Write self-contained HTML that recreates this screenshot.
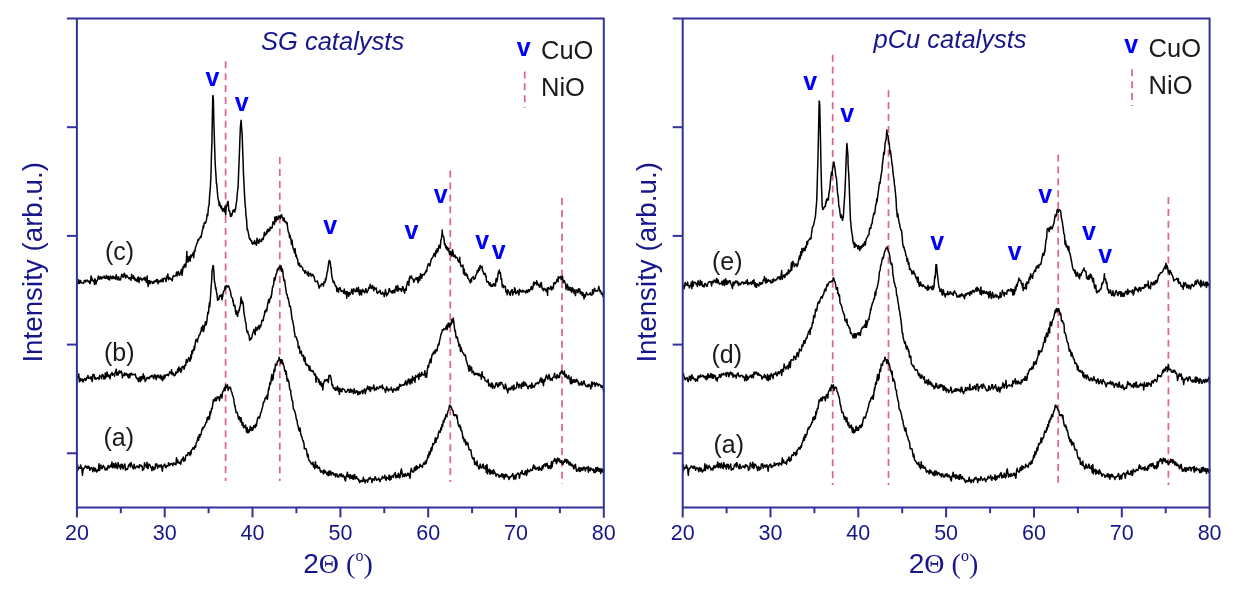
<!DOCTYPE html>
<html><head><meta charset="utf-8"><style>
html,body{margin:0;padding:0;background:#fff;}
body{width:1238px;height:595px;overflow:hidden;}
svg{display:block;will-change:transform;}
text{font-family:"Liberation Sans",sans-serif;}
.serif{font-family:"Liberation Serif",serif;}
</style></head><body>
<svg width="1238" height="595" viewBox="0 0 1238 595">
<rect width="1238" height="595" fill="#fff"/>
<path d="M225.6 61.3V481" stroke="#de6590" stroke-width="1.75" stroke-dasharray="7 4.9"/>
<path d="M279.8 157.1V481" stroke="#de6590" stroke-width="1.75" stroke-dasharray="7 4.9"/>
<path d="M450.3 170.6V482" stroke="#de6590" stroke-width="1.75" stroke-dasharray="7 4.9"/>
<path d="M562.0 198V484" stroke="#de6590" stroke-width="1.75" stroke-dasharray="7 4.9"/>
<path d="M832.7 54.7V485" stroke="#de6590" stroke-width="1.75" stroke-dasharray="7 4.9"/>
<path d="M888.5 90.2V485" stroke="#de6590" stroke-width="1.75" stroke-dasharray="7 4.9"/>
<path d="M1058.2 154.5V485" stroke="#de6590" stroke-width="1.75" stroke-dasharray="7 4.9"/>
<path d="M1168.4 197V485" stroke="#de6590" stroke-width="1.75" stroke-dasharray="7 4.9"/>
<polyline fill="none" stroke="#000" stroke-width="1.5" stroke-linejoin="round" points="76.90,282.72 77.51,283.87 78.13,282.96 78.74,279.77 79.36,283.49 79.97,282.41 80.59,280.55 81.20,282.87 81.82,282.79 82.43,282.98 83.05,282.81 83.66,283.31 84.28,280.58 84.89,281.19 85.51,280.19 85.68,282.01 86.12,281.18 86.74,280.82 87.35,280.16 87.96,281.31 88.58,281.80 89.19,281.04 89.81,283.61 90.42,282.83 91.04,275.91 91.65,277.43 92.27,280.54 92.88,280.13 93.50,281.30 94.11,281.20 94.46,284.54 94.73,278.67 95.34,279.83 95.96,283.99 96.57,281.18 97.19,280.84 97.80,278.33 98.42,275.89 99.03,278.90 99.64,278.93 100.26,276.66 100.87,277.79 101.49,279.05 102.10,276.89 102.72,277.85 103.33,277.66 103.95,277.06 104.12,275.95 104.56,277.93 105.18,278.46 105.79,277.44 106.41,275.40 107.02,278.35 107.64,276.49 108.25,279.33 108.87,276.18 109.48,280.06 110.09,278.37 110.71,276.14 111.32,277.81 111.94,278.46 112.03,278.85 112.55,276.51 113.17,276.18 113.78,278.43 114.40,277.13 115.01,278.29 115.63,279.12 116.24,274.68 116.86,278.00 117.47,279.78 118.09,277.41 118.70,276.86 119.32,280.06 119.93,279.54 120.54,279.95 121.16,276.96 121.77,274.17 122.39,275.91 122.56,275.09 123.00,277.36 123.62,276.43 124.23,273.27 124.85,274.19 125.46,278.00 126.08,277.63 126.69,275.26 127.31,276.41 127.92,277.29 128.54,277.79 129.15,278.98 129.59,278.19 129.77,277.68 130.38,277.85 131.00,280.22 131.61,274.21 132.22,277.95 132.84,278.21 133.45,275.70 134.07,279.12 134.68,277.60 135.30,280.59 135.91,279.01 136.53,280.50 137.14,281.56 137.49,280.09 137.76,277.85 138.37,276.78 138.99,282.52 139.60,279.03 140.22,277.86 140.83,279.23 141.45,278.59 142.06,280.48 142.67,279.02 143.29,278.99 143.90,277.73 144.52,279.96 145.13,277.36 145.75,280.52 146.36,282.26 146.98,277.58 147.15,276.11 147.59,282.24 148.21,286.54 148.82,281.00 149.44,280.59 150.05,283.82 150.67,281.15 151.28,281.65 151.90,281.92 152.51,283.54 153.12,281.86 153.74,283.06 154.18,282.20 154.35,280.94 154.97,281.67 155.58,280.30 156.20,281.76 156.81,279.45 157.43,279.44 158.04,283.95 158.66,281.15 159.27,281.06 159.89,281.95 160.50,280.12 161.12,280.33 161.20,281.49 161.73,281.11 162.35,278.40 162.96,281.88 163.58,279.21 164.19,278.26 164.80,278.36 165.42,278.72 166.03,281.78 166.65,276.15 167.26,277.95 167.88,274.00 168.23,278.02 168.49,279.77 169.11,278.00 169.72,277.53 170.34,278.96 170.95,279.43 171.57,278.96 172.18,280.89 172.80,277.33 173.41,275.63 174.03,276.20 174.64,276.02 175.25,276.06 175.87,275.36 176.13,275.54 176.48,271.96 177.10,275.99 177.71,272.98 178.33,271.51 178.94,274.40 179.56,275.22 180.17,273.31 180.79,272.12 181.40,269.34 182.02,275.34 182.63,270.86 183.16,266.42 183.25,266.99 183.86,267.97 184.48,264.35 185.09,266.55 185.70,264.11 185.79,266.91 186.32,261.94 186.85,251.62 186.93,256.55 187.55,256.13 187.99,262.18 188.16,260.25 188.78,260.24 189.39,256.63 190.01,261.04 190.18,261.19 190.62,255.17 191.24,257.15 191.85,254.82 192.47,255.48 193.08,252.69 193.70,257.72 194.31,250.74 194.57,251.12 194.93,251.42 195.54,247.23 196.16,245.73 196.77,243.44 197.38,242.77 198.00,239.53 198.09,240.67 198.61,240.03 199.23,238.68 199.84,238.30 200.46,236.55 201.07,237.19 201.60,234.04 201.69,234.08 202.30,230.73 202.92,228.41 203.36,225.39 203.53,227.99 204.15,223.01 204.76,222.42 205.38,223.19 205.99,221.88 206.61,218.98 207.22,213.97 207.75,215.75 207.83,214.95 208.45,207.29 209.06,205.09 209.50,197.44 209.68,194.65 210.29,188.44 210.82,178.16 210.91,176.80 211.52,152.80 211.96,141.56 212.14,129.27 212.75,96.61 213.02,95.55 213.37,100.23 213.98,126.23 214.07,128.04 214.60,146.26 215.21,164.18 215.83,173.08 216.44,183.77 216.53,182.75 217.06,187.94 217.67,195.48 217.85,197.55 218.28,199.49 218.90,201.92 219.16,205.60 219.51,202.33 220.13,205.07 220.74,207.82 221.36,205.93 221.80,208.84 221.97,208.85 222.59,211.15 223.20,208.58 223.82,209.66 224.43,211.69 225.05,206.29 225.66,214.97 226.19,206.62 226.28,206.27 226.89,205.98 227.51,202.19 228.12,201.34 228.74,209.86 228.82,210.67 229.35,210.43 229.96,213.05 230.58,216.40 231.19,214.01 231.46,216.27 231.81,215.44 232.42,212.85 233.04,210.31 233.65,211.50 234.27,209.60 234.88,211.93 234.97,210.19 235.50,209.44 236.11,204.73 236.73,200.57 237.34,193.02 237.96,187.82 238.04,188.53 238.57,174.44 239.19,158.50 239.36,154.90 239.80,141.94 240.41,126.67 241.03,121.20 241.12,120.24 241.64,128.29 242.00,131.65 242.26,137.77 242.87,156.36 243.05,158.97 243.49,174.32 244.10,186.58 244.19,188.07 244.72,198.15 245.33,207.39 245.51,207.33 245.95,215.27 246.56,219.37 247.18,230.25 247.26,228.17 247.79,230.31 248.41,233.17 249.02,236.93 249.64,239.14 250.25,238.74 250.34,239.04 250.86,240.74 251.48,240.50 252.09,243.50 252.71,244.20 253.32,242.48 253.94,243.56 254.55,240.39 255.17,243.79 255.78,242.44 256.05,243.30 256.40,245.24 257.01,238.16 257.63,242.84 258.24,240.41 258.86,243.19 259.47,239.16 260.09,240.33 260.70,241.26 261.31,241.66 261.75,240.51 261.93,238.89 262.54,238.46 263.16,239.68 263.77,236.68 264.39,232.24 265.00,235.56 265.62,234.03 266.23,234.15 266.58,231.60 266.85,233.43 267.46,229.48 268.08,231.80 268.69,229.29 269.31,230.77 269.92,230.68 270.10,227.33 270.54,228.03 271.15,227.30 271.77,228.38 272.38,226.51 272.99,221.77 273.61,223.24 274.22,222.43 274.49,224.43 274.84,217.01 275.45,218.27 276.07,221.49 276.24,216.60 276.68,216.65 277.30,219.29 277.91,219.64 278.53,215.89 279.14,217.39 279.76,216.12 280.37,218.36 280.63,215.60 280.99,217.49 281.60,214.61 282.22,216.74 282.83,217.87 283.27,220.77 283.44,219.89 284.06,218.01 284.67,221.22 285.29,222.14 285.90,221.45 286.52,223.16 286.78,224.16 287.13,222.79 287.75,228.96 288.36,232.20 288.98,232.72 289.59,237.68 290.21,235.56 290.29,237.23 290.82,238.41 291.44,244.42 292.05,240.12 292.67,246.10 293.28,248.85 293.89,249.88 294.51,252.96 294.69,249.53 295.12,248.58 295.74,256.18 296.35,254.86 296.97,258.55 297.58,258.90 298.20,264.40 298.81,265.25 299.43,263.26 300.04,266.80 300.66,265.92 301.27,265.92 301.89,266.91 302.50,267.63 303.12,270.25 303.73,270.82 304.35,270.72 304.96,273.38 305.57,270.64 306.19,272.40 306.80,272.75 307.42,274.95 308.03,271.76 308.65,276.19 309.26,273.76 309.88,273.55 310.49,273.25 311.11,276.10 311.72,275.71 312.34,274.23 312.95,274.76 313.57,276.37 314.18,276.73 314.80,280.50 315.41,281.76 316.02,281.62 316.64,281.49 317.25,280.91 317.87,282.68 318.48,285.08 319.10,288.23 319.71,286.89 320.33,285.28 320.94,285.70 321.56,284.42 321.91,283.57 322.17,284.32 322.79,283.81 323.40,286.02 324.02,281.71 324.63,282.74 325.25,282.08 325.42,278.65 325.86,280.25 326.47,276.58 327.09,272.10 327.62,271.07 327.70,270.21 328.32,265.43 328.93,261.06 329.37,260.35 329.55,261.03 330.16,261.60 330.78,267.78 331.13,267.48 331.39,272.34 332.01,277.11 332.62,279.74 332.89,280.92 333.24,282.44 333.85,281.31 334.47,282.95 335.08,285.02 335.70,286.48 336.31,286.36 336.93,291.50 337.54,287.90 338.15,290.93 338.59,292.13 338.77,289.60 339.38,288.29 340.00,287.56 340.61,289.88 341.23,291.47 341.84,290.72 342.46,291.26 343.07,290.97 343.69,293.32 344.30,288.99 344.92,293.70 345.53,293.74 346.15,291.57 346.76,298.19 346.94,291.81 347.38,292.42 347.99,292.20 348.60,296.28 349.22,292.50 349.83,294.73 350.45,293.99 351.06,292.78 351.68,289.34 352.29,290.30 352.91,294.21 353.52,288.70 354.14,289.42 354.75,290.36 355.28,291.80 355.37,290.76 355.98,291.37 356.60,287.90 357.21,291.46 357.83,291.00 358.44,287.35 359.05,293.25 359.67,294.86 360.28,289.92 360.90,291.96 361.51,294.89 362.13,290.19 362.74,289.28 363.18,290.37 363.36,291.60 363.97,291.21 364.59,292.82 365.20,291.66 365.82,288.42 366.43,291.12 367.05,292.87 367.66,291.00 368.28,289.81 368.89,287.29 369.51,288.33 370.12,284.24 370.73,287.39 371.09,286.04 371.35,288.39 371.96,287.67 372.58,285.48 373.19,288.26 373.81,290.81 374.42,287.22 375.04,288.91 375.65,289.09 376.27,288.02 376.88,292.64 377.50,293.39 378.11,292.49 378.73,291.74 378.99,291.28 379.34,291.87 379.96,290.23 380.57,293.27 381.18,293.92 381.80,294.20 382.41,292.05 383.03,293.62 383.64,293.34 384.26,296.59 384.87,293.43 385.49,289.45 386.10,293.31 386.72,295.90 387.33,293.66 387.95,293.92 388.56,292.31 389.18,288.54 389.53,288.73 389.79,289.66 390.41,291.47 391.02,292.02 391.63,292.61 392.25,290.75 392.86,293.07 393.48,290.81 394.09,289.98 394.71,292.69 395.32,289.40 395.94,286.03 396.55,288.92 397.17,291.14 397.78,285.57 398.31,290.60 398.40,290.67 399.01,288.86 399.63,288.38 400.24,289.61 400.86,288.85 401.47,291.48 402.09,289.65 402.70,286.39 403.31,287.93 403.93,290.94 404.54,293.09 405.16,289.42 405.77,288.28 406.21,290.33 406.39,286.62 407.00,284.68 407.62,281.51 408.23,281.87 408.85,285.40 409.29,278.03 409.46,280.24 410.08,276.13 410.69,277.40 411.31,277.99 411.48,275.96 411.92,278.07 412.54,278.86 413.15,279.12 413.76,282.20 414.38,281.09 414.99,279.23 415.61,278.35 416.22,277.71 416.84,279.64 417.45,277.68 418.07,282.83 418.68,280.98 418.95,277.18 419.30,276.86 419.91,280.29 420.53,273.65 421.14,275.99 421.76,278.25 422.37,274.61 422.99,274.99 423.60,274.26 424.21,275.06 424.65,273.35 424.83,273.50 425.44,272.52 426.06,270.60 426.67,271.61 427.29,267.31 427.90,265.08 428.17,264.08 428.52,263.69 429.13,264.41 429.75,266.02 430.36,263.22 430.98,260.55 431.59,258.37 432.21,258.06 432.82,257.06 433.44,255.62 434.05,253.34 434.67,254.48 435.28,256.67 435.89,250.48 436.51,253.14 437.12,248.74 437.74,251.78 438.35,248.86 438.97,245.15 439.58,247.73 440.20,248.04 440.81,240.66 441.43,238.39 442.04,233.79 442.22,229.91 442.66,235.34 443.27,236.12 443.89,237.45 444.50,244.48 444.85,244.76 445.12,243.95 445.73,247.87 446.34,246.02 446.96,249.72 447.57,247.58 448.19,250.86 448.80,248.47 449.42,253.80 449.68,252.02 450.03,254.71 450.65,251.57 451.26,253.03 451.88,256.21 452.49,249.68 453.11,252.64 453.72,256.41 454.34,255.48 454.51,256.44 454.95,254.99 455.57,257.91 456.18,257.06 456.79,257.47 457.41,258.12 458.02,260.91 458.64,261.62 459.25,262.12 459.78,257.34 459.87,260.29 460.48,264.02 461.10,266.57 461.71,266.06 462.33,266.56 462.94,264.97 463.56,273.73 464.17,269.05 464.79,274.97 465.05,275.14 465.40,273.49 466.02,273.19 466.63,275.73 467.25,274.70 467.86,278.35 468.47,278.52 469.09,280.02 469.70,281.21 470.32,282.91 470.93,279.18 471.55,281.64 471.64,278.30 472.16,277.74 472.78,277.50 473.39,276.30 474.01,279.28 474.62,278.50 475.24,278.41 475.85,275.07 476.47,274.32 477.08,271.64 477.34,270.19 477.70,272.52 478.31,271.24 478.92,267.97 479.54,270.25 480.15,265.39 480.77,267.66 481.38,266.82 481.73,267.11 482.00,266.29 482.61,270.86 483.23,271.61 483.84,274.34 484.46,274.12 485.07,273.25 485.69,276.47 486.13,275.94 486.30,279.30 486.92,282.08 487.53,281.89 488.15,281.54 488.76,283.17 489.37,284.93 489.99,282.72 490.60,286.16 491.22,286.40 491.39,285.00 491.83,285.30 492.45,286.25 493.06,284.16 493.68,283.68 494.29,285.91 494.91,284.09 495.52,285.85 495.79,280.68 496.14,278.61 496.75,281.79 497.37,279.63 497.98,274.43 498.60,271.42 499.21,273.14 499.30,270.05 499.83,273.44 500.44,272.74 501.05,279.50 501.67,278.86 501.93,282.99 502.28,286.83 502.90,284.75 503.51,287.64 504.13,286.02 504.74,286.51 505.36,286.56 505.97,292.12 506.59,290.98 507.20,294.66 507.82,289.69 508.43,291.46 509.05,292.04 509.66,294.45 510.28,295.36 510.89,291.13 511.50,290.45 512.12,289.54 512.73,295.11 513.35,292.42 513.96,291.26 514.23,292.26 514.58,287.64 515.19,288.99 515.81,293.84 516.42,292.92 517.04,292.53 517.65,290.49 518.27,293.14 518.88,295.01 519.50,289.34 520.11,291.29 520.73,290.47 521.34,292.07 521.95,291.62 522.13,291.38 522.57,290.17 523.18,291.84 523.80,290.78 524.41,291.61 525.03,291.73 525.64,292.96 526.26,290.38 526.87,290.47 527.49,292.58 528.10,289.85 528.72,289.56 529.33,291.45 529.59,290.32 529.95,289.88 530.56,289.77 531.18,286.54 531.79,288.73 532.41,289.35 533.02,287.04 533.63,282.28 534.25,285.01 534.86,282.38 535.48,283.22 536.09,283.64 536.71,280.76 537.06,285.09 537.32,282.48 537.94,284.23 538.55,284.54 539.17,286.66 539.78,287.29 540.40,283.27 541.01,286.48 541.45,282.61 541.63,285.83 542.24,288.53 542.86,289.49 543.47,290.74 544.08,288.30 544.70,289.54 545.31,289.10 545.93,291.15 546.54,291.65 547.16,288.02 547.60,295.36 547.77,288.49 548.39,287.57 549.00,288.93 549.62,288.97 550.23,288.54 550.85,286.29 551.46,289.95 552.08,287.14 552.69,289.18 553.31,288.27 553.74,283.02 553.92,283.36 554.53,282.52 555.15,283.91 555.76,282.63 556.38,282.08 556.99,279.24 557.61,280.59 558.14,281.66 558.22,276.63 558.84,277.96 559.45,278.06 560.07,276.80 560.68,276.42 561.30,279.85 561.65,279.00 561.91,278.33 562.53,276.16 563.14,282.68 563.76,280.74 564.37,280.62 564.99,282.59 565.60,283.85 566.04,289.48 566.21,286.35 566.83,287.21 567.44,284.30 568.06,290.20 568.67,287.14 569.29,287.14 569.90,290.35 570.52,287.79 571.13,291.45 571.75,292.47 572.19,287.54 572.36,290.63 572.98,288.43 573.59,291.46 574.21,293.49 574.82,289.65 575.44,295.59 576.05,291.72 576.66,289.85 577.28,291.45 577.89,292.79 578.51,288.70 579.12,291.34 579.74,289.02 580.35,293.82 580.97,292.11 581.58,292.01 582.20,295.61 582.81,292.40 583.43,295.00 584.04,298.86 584.66,294.68 585.27,296.71 585.89,293.98 586.50,292.27 587.11,293.73 587.73,294.94 588.34,294.67 588.96,294.38 589.57,294.21 590.19,292.67 590.80,295.09 591.42,294.91 592.03,294.96 592.65,289.69 593.26,293.69 593.88,291.53 594.49,288.24 595.11,290.28 595.72,291.09 595.90,290.48 596.34,290.67 596.95,290.96 597.57,291.13 598.18,289.74 598.79,286.38 599.41,289.12 600.02,291.66 600.64,290.75 601.25,293.48 601.87,294.39 602.48,293.24 603.10,296.59 603.71,291.58 603.80,295.04"/>
<polyline fill="none" stroke="#000" stroke-width="1.5" stroke-linejoin="round" points="76.90,377.95 77.51,376.85 78.13,377.28 78.74,373.91 79.36,381.80 79.97,380.87 80.59,378.49 81.20,380.80 81.82,380.24 82.43,379.05 83.05,382.10 83.66,379.64 84.28,379.45 84.89,378.46 85.51,380.54 85.68,379.49 86.12,380.18 86.74,377.42 87.35,378.03 87.96,375.45 88.58,378.31 89.19,377.54 89.81,378.18 90.42,378.70 91.04,376.43 91.65,379.44 92.27,381.52 92.88,374.67 93.50,374.31 94.11,374.63 94.73,378.81 95.34,377.51 95.96,379.22 96.57,378.67 97.19,377.90 97.80,378.19 98.42,377.53 99.03,379.36 99.64,375.22 100.26,375.95 100.87,376.60 101.49,378.85 102.10,374.66 102.72,374.51 103.33,375.85 103.95,379.02 104.56,376.51 105.00,378.85 105.18,372.91 105.79,377.61 106.41,376.69 107.02,371.89 107.64,374.83 108.25,376.83 108.87,374.87 109.48,376.53 110.09,378.78 110.71,374.78 111.32,373.58 111.94,372.52 112.55,375.21 113.17,373.92 113.78,374.23 114.40,374.70 114.66,376.23 115.01,372.78 115.63,371.34 116.24,369.13 116.86,375.10 117.47,372.64 118.09,375.11 118.70,372.26 119.32,370.84 119.93,372.94 120.54,372.56 121.16,371.06 121.77,372.34 122.39,377.73 123.00,375.24 123.62,375.17 124.23,373.74 124.32,372.97 124.85,375.65 125.46,373.98 126.08,373.35 126.69,375.02 127.31,374.18 127.92,376.57 128.54,377.86 129.15,373.93 129.77,377.61 130.38,373.45 131.00,374.92 131.61,373.19 132.22,374.36 132.84,374.91 133.45,374.39 133.98,374.38 134.07,374.51 134.68,374.83 135.30,374.08 135.91,376.87 136.53,378.02 137.14,378.89 137.76,378.39 138.37,381.62 138.99,378.18 139.60,377.18 140.22,381.75 140.83,376.86 141.45,380.32 142.06,376.47 142.67,378.40 143.29,373.75 143.64,378.63 143.90,377.00 144.52,376.17 145.13,381.52 145.75,380.45 146.36,379.55 146.98,377.55 147.59,378.23 148.21,377.42 148.82,378.42 149.44,378.62 150.05,376.16 150.67,376.56 151.28,376.80 151.90,375.16 152.51,376.10 153.12,376.59 153.30,377.89 153.74,378.75 154.35,374.66 154.97,377.05 155.58,375.23 156.20,379.75 156.81,375.92 157.43,377.28 158.04,375.06 158.66,375.65 159.27,377.81 159.89,376.93 160.33,378.33 160.50,374.91 161.12,378.93 161.73,376.05 162.35,380.71 162.96,377.10 163.58,379.55 164.19,374.99 164.80,378.09 165.42,375.07 166.03,375.14 166.65,375.43 167.26,374.22 167.88,375.00 168.23,375.77 168.49,375.53 169.11,374.06 169.72,371.65 170.34,372.49 170.95,373.40 171.57,369.76 172.18,374.76 172.80,372.96 173.41,373.29 174.03,375.80 174.64,375.64 175.25,375.17 175.87,371.95 176.48,373.27 177.10,372.28 177.71,368.98 177.89,372.14 178.33,371.29 178.94,366.95 179.56,370.81 180.17,368.38 180.79,372.41 181.40,371.09 182.02,366.87 182.63,366.46 183.25,367.44 183.86,366.31 184.04,369.33 184.48,367.48 185.09,364.84 185.70,365.46 186.32,359.54 186.93,362.50 187.55,362.31 188.16,359.31 188.78,357.57 189.39,359.31 190.01,361.23 190.62,357.43 191.06,354.53 191.24,358.68 191.85,351.00 192.47,353.51 193.08,349.71 193.70,350.54 194.14,346.33 194.31,349.83 194.93,346.49 195.54,341.25 196.16,339.16 196.77,340.62 197.38,342.05 198.00,338.48 198.61,336.92 199.23,334.79 199.84,334.77 200.46,332.44 201.07,330.70 201.60,327.19 201.69,330.99 202.30,330.66 202.92,325.40 203.53,331.49 204.15,328.24 204.76,325.26 205.38,321.66 205.99,324.95 206.61,322.88 207.22,317.99 207.83,312.24 208.45,313.36 209.06,305.73 209.50,302.47 209.68,307.11 210.29,299.79 210.91,290.73 211.26,284.42 211.52,283.40 212.14,270.01 212.75,267.86 213.02,265.40 213.37,266.13 213.98,273.14 214.33,280.57 214.60,281.51 215.21,285.25 215.65,289.11 215.83,287.29 216.44,291.68 217.06,294.89 217.41,298.36 217.67,300.31 218.28,298.48 218.90,299.54 219.51,295.76 220.13,296.51 220.74,295.72 221.36,294.60 221.97,299.75 222.59,297.17 223.20,292.65 223.82,290.86 224.43,290.45 225.05,286.49 225.66,288.89 226.19,285.40 226.28,287.03 226.89,285.83 227.51,287.00 228.12,285.89 228.74,286.13 229.35,287.98 229.70,288.95 229.96,290.03 230.58,291.90 231.19,296.53 231.81,297.50 232.42,297.99 233.04,302.19 233.21,300.34 233.65,305.38 234.27,306.02 234.88,305.22 235.50,311.66 236.11,314.45 236.73,310.65 237.34,315.63 237.60,316.36 237.96,313.36 238.57,312.37 239.19,308.89 239.36,310.52 239.80,306.93 240.41,305.67 241.03,297.01 241.12,299.73 241.64,299.27 242.26,303.35 242.43,301.64 242.87,301.98 243.49,306.30 243.75,310.17 244.10,313.95 244.72,316.92 245.33,321.46 245.95,322.77 246.56,329.87 247.18,332.22 247.79,331.38 248.41,334.55 249.02,334.82 249.64,340.37 250.25,339.08 250.78,338.27 250.86,339.14 251.48,338.69 252.09,336.15 252.71,333.33 253.32,331.75 253.94,329.39 254.55,332.14 255.17,334.66 255.78,327.18 256.40,330.14 257.01,330.30 257.63,327.16 258.24,328.66 258.86,325.63 259.47,329.00 260.09,325.21 260.44,326.10 260.70,326.83 261.31,323.89 261.93,320.27 262.54,320.68 263.16,320.66 263.77,316.73 264.39,314.91 264.83,310.89 265.00,312.62 265.62,312.04 266.23,309.16 266.85,310.89 267.46,305.41 268.08,302.21 268.69,299.43 269.31,302.60 269.92,298.53 270.54,298.38 270.97,295.81 271.15,297.25 271.77,293.97 272.38,288.06 272.99,286.17 273.61,284.65 274.22,277.72 274.84,280.22 275.37,278.26 275.45,277.62 276.07,273.91 276.68,273.26 277.30,269.24 277.91,270.05 278.53,267.71 279.14,268.01 279.76,266.37 280.20,267.57 280.37,269.21 280.99,265.64 281.60,271.54 282.22,268.72 282.83,270.99 283.27,276.34 283.44,277.31 284.06,280.84 284.67,279.99 285.29,285.89 285.90,289.35 286.52,294.16 287.13,294.48 287.75,298.34 288.36,298.26 288.54,300.41 288.98,301.88 289.59,306.53 290.21,306.03 290.82,308.90 291.44,314.21 292.05,319.43 292.67,320.51 293.28,324.42 293.89,327.11 294.25,331.62 294.51,331.93 295.12,336.89 295.74,336.96 296.35,337.08 296.97,339.93 297.58,341.25 297.76,341.36 298.20,347.34 298.81,348.53 299.43,346.56 300.04,353.45 300.66,352.08 301.27,351.22 301.89,355.05 302.50,356.01 303.12,356.39 303.47,355.17 303.73,359.36 304.35,361.21 304.96,357.15 305.57,363.83 306.19,364.93 306.80,363.94 307.42,365.76 308.03,365.79 308.65,365.58 308.74,366.55 309.26,370.41 309.88,366.31 310.49,370.25 311.11,371.07 311.72,370.33 312.34,371.61 312.95,370.72 313.57,372.34 314.18,374.36 314.80,375.27 315.41,373.98 316.02,382.07 316.64,376.52 317.25,378.78 317.87,378.85 318.40,379.02 318.48,382.17 319.10,379.76 319.71,384.04 320.33,384.76 320.94,381.76 321.56,386.28 322.17,383.75 322.79,389.96 323.40,383.94 324.02,382.35 324.63,379.84 325.25,380.07 325.86,380.95 326.47,379.99 327.09,379.35 327.18,380.28 327.70,380.74 328.32,382.60 328.93,375.51 329.55,376.67 329.81,375.83 330.16,375.11 330.78,377.26 331.39,380.23 332.01,385.45 332.45,384.97 332.62,384.68 333.24,387.94 333.85,388.53 334.47,388.37 334.64,389.55 335.08,387.49 335.70,390.25 336.31,389.88 336.93,388.05 337.54,386.33 338.15,390.98 338.77,388.38 339.38,394.34 340.00,388.30 340.35,391.38 340.61,389.33 341.23,391.20 341.84,391.80 342.46,388.42 343.07,389.23 343.69,389.24 344.30,389.40 344.92,390.79 345.53,392.08 346.15,392.26 346.76,391.56 347.38,390.52 347.99,389.17 348.60,389.95 349.13,390.38 349.22,392.55 349.83,390.62 350.45,389.00 351.06,392.35 351.68,389.78 352.29,390.23 352.91,391.66 353.52,393.38 354.14,388.64 354.75,391.02 355.37,393.08 355.98,391.83 356.60,390.63 357.21,391.07 357.83,394.79 358.44,391.70 358.79,393.92 359.05,394.14 359.67,392.04 360.28,393.60 360.90,391.89 361.51,391.47 362.13,390.38 362.74,393.67 363.36,391.01 363.97,390.34 364.59,388.90 365.20,393.77 365.82,391.41 366.43,389.40 367.05,387.96 367.66,386.12 368.28,389.49 368.89,389.60 369.51,386.70 370.12,391.50 370.73,390.59 371.09,387.31 371.35,387.94 371.96,387.92 372.58,388.73 373.19,387.96 373.81,385.07 374.42,390.48 375.04,388.20 375.65,389.75 376.27,389.69 376.88,387.00 377.50,387.95 378.11,388.62 378.73,388.70 379.34,387.05 379.96,386.26 380.57,387.47 381.18,386.29 381.80,387.17 382.41,384.97 382.50,388.84 383.03,387.27 383.64,388.33 384.26,389.02 384.87,389.54 385.49,392.29 386.10,389.27 386.72,386.72 387.33,389.87 387.95,388.91 388.56,391.03 389.18,389.27 389.79,389.34 390.41,389.73 391.02,389.45 391.28,387.23 391.63,389.28 392.25,390.32 392.86,392.29 393.48,389.31 394.09,388.78 394.71,389.98 395.32,389.36 395.94,390.70 396.55,388.30 397.17,387.23 397.78,389.70 398.40,390.11 399.01,386.60 399.19,387.77 399.63,384.21 400.24,386.24 400.86,384.97 401.47,385.85 402.09,384.96 402.70,385.03 403.31,384.64 403.93,385.21 404.54,384.25 405.16,382.44 405.77,380.75 406.39,384.89 407.00,384.81 407.62,381.32 407.97,383.10 408.23,379.30 408.85,379.13 409.46,381.33 410.08,384.17 410.69,379.21 411.31,379.16 411.92,383.12 412.54,376.34 413.15,380.34 413.76,379.49 414.38,377.68 414.56,378.23 414.99,382.22 415.61,375.42 416.22,376.84 416.84,376.93 417.45,376.07 418.07,374.59 418.68,379.47 419.30,376.60 419.38,372.99 419.91,374.57 420.53,376.25 421.14,375.94 421.76,372.35 422.37,374.50 422.99,374.88 423.60,375.02 424.21,374.90 424.83,370.73 425.44,377.09 426.06,373.42 426.41,375.79 426.67,377.22 427.29,370.09 427.90,365.86 428.52,367.42 429.13,363.58 429.75,361.34 430.36,359.04 430.98,362.85 431.59,357.43 432.21,354.25 432.82,354.56 433.44,351.89 434.05,353.65 434.67,351.92 435.19,350.07 435.28,352.93 435.89,349.76 436.51,351.00 437.12,350.58 437.74,346.16 438.35,344.05 438.70,344.60 438.97,344.94 439.58,340.77 440.20,338.13 440.81,334.96 441.43,333.13 442.04,332.27 442.22,329.65 442.66,329.66 443.27,330.19 443.89,328.61 444.50,329.42 445.12,329.48 445.73,327.81 446.34,326.07 446.96,325.16 447.05,329.64 447.57,327.55 448.19,323.25 448.80,322.96 449.42,327.10 450.03,325.94 450.65,322.98 451.26,324.45 451.88,319.44 452.49,321.64 453.11,322.70 453.19,318.00 453.72,320.95 454.34,326.84 454.95,331.38 455.39,330.64 455.57,333.00 456.18,337.98 456.79,336.93 457.41,337.42 458.02,341.52 458.64,342.54 458.90,346.21 459.25,344.92 459.87,344.42 460.48,351.47 461.10,347.45 461.71,350.35 462.33,351.87 462.94,353.12 463.56,353.16 464.17,355.20 464.79,355.61 465.40,355.08 466.02,359.33 466.63,361.49 467.25,363.56 467.86,365.94 468.47,366.03 468.56,369.70 469.09,371.14 469.70,365.48 470.32,370.48 470.93,369.96 471.55,367.12 472.08,372.81 472.16,370.99 472.78,371.57 473.39,371.22 474.01,374.48 474.62,374.86 475.24,373.21 475.85,374.27 476.47,373.44 477.08,374.52 477.70,373.59 478.31,375.48 478.92,373.54 479.10,375.34 479.54,375.80 480.15,374.49 480.77,375.80 481.38,379.30 482.00,371.69 482.61,376.58 483.23,376.62 483.84,377.86 484.46,377.20 485.07,380.66 485.69,380.93 486.30,380.96 486.92,382.12 487.53,382.01 488.15,379.36 488.76,386.00 489.37,384.28 489.99,383.82 490.60,386.70 491.22,385.47 491.83,382.86 492.27,388.28 492.45,383.61 493.06,386.02 493.68,386.37 494.29,388.20 494.91,387.40 495.52,385.01 496.14,382.79 496.75,382.94 497.37,385.66 497.98,386.95 498.60,384.75 499.21,382.68 499.83,385.42 500.44,382.60 501.05,382.29 501.67,382.42 502.28,384.49 502.90,384.90 503.51,387.26 504.13,388.93 504.74,388.53 505.36,384.07 505.97,385.78 506.59,389.54 507.20,389.35 507.82,392.95 508.43,388.59 509.05,387.94 509.66,389.47 510.28,389.66 510.89,387.47 511.50,388.88 512.12,386.13 512.73,386.43 513.35,390.08 513.96,385.06 514.23,389.14 514.58,388.55 515.19,388.46 515.81,388.43 516.42,387.52 517.04,382.37 517.65,384.13 518.27,384.94 518.88,387.80 519.50,384.26 520.11,385.16 520.73,385.66 521.34,388.37 521.95,383.09 522.57,382.93 523.18,386.31 523.80,381.50 523.89,385.94 524.41,384.65 525.03,382.77 525.64,385.00 526.26,384.05 526.87,386.26 527.49,386.72 528.10,388.84 528.72,386.20 529.33,386.44 529.95,385.25 530.56,386.27 531.18,388.22 531.79,382.88 532.41,387.54 533.02,385.38 533.11,386.48 533.63,386.82 534.25,387.17 534.86,385.41 535.48,383.56 536.09,384.07 536.71,383.15 537.32,382.44 537.94,382.86 538.55,383.77 539.17,382.13 539.78,381.87 540.13,379.14 540.40,381.13 541.01,377.80 541.63,382.23 542.24,379.03 542.86,382.85 543.47,385.71 544.08,379.42 544.70,381.60 545.31,379.02 545.93,376.39 546.54,374.98 547.16,377.44 547.77,379.22 548.39,377.63 549.00,374.56 549.35,375.58 549.62,377.14 550.23,380.21 550.85,378.52 551.46,378.85 552.08,380.59 552.69,377.57 553.31,377.30 553.92,376.66 554.53,373.29 555.15,377.41 555.76,377.47 556.38,378.63 556.99,374.73 557.61,375.11 558.22,377.76 558.84,376.10 559.45,377.43 560.07,372.71 560.68,373.56 561.30,371.13 561.65,372.53 561.91,370.88 562.53,372.39 563.14,374.19 563.76,374.41 564.37,370.96 564.99,376.93 565.60,376.81 566.04,374.53 566.21,374.96 566.83,377.08 567.44,378.59 568.06,377.18 568.67,375.41 569.29,379.16 569.90,379.27 570.52,383.62 571.13,376.92 571.75,383.78 572.36,382.36 572.98,379.73 573.06,382.16 573.59,379.93 574.21,382.19 574.82,379.79 575.44,381.93 576.05,380.30 576.66,379.37 577.28,381.79 577.89,381.16 578.51,383.56 579.12,385.34 579.74,383.24 580.35,384.13 580.97,384.81 581.58,381.51 582.20,385.04 582.72,384.58 582.81,384.47 583.43,382.55 584.04,380.85 584.66,383.80 585.27,384.66 585.89,386.33 586.50,385.93 587.11,386.70 587.73,384.92 588.34,386.52 588.96,384.20 589.57,385.55 590.19,385.95 590.80,388.98 591.42,384.44 591.94,381.73 592.03,386.51 592.65,382.67 593.26,384.06 593.88,383.71 594.49,382.59 595.11,386.54 595.72,385.13 596.34,382.88 596.95,384.17 597.57,383.67 598.18,385.97 598.79,384.59 599.41,384.32 600.02,384.90 600.64,385.64 601.25,387.32 601.87,385.52 602.48,387.14 603.10,388.12 603.71,391.55 603.80,388.89"/>
<polyline fill="none" stroke="#000" stroke-width="1.5" stroke-linejoin="round" points="76.90,472.97 77.51,464.51 78.13,469.72 78.74,467.83 79.36,467.92 79.97,468.23 80.59,464.97 81.20,468.43 81.82,467.53 82.43,475.31 83.05,469.97 83.66,468.49 84.28,468.18 84.89,467.04 85.51,465.91 86.12,466.75 86.74,468.00 87.35,466.39 87.96,468.22 88.58,466.17 89.19,467.07 89.81,470.30 90.42,469.00 91.04,467.53 91.65,468.02 92.27,469.23 92.88,471.66 93.50,467.60 94.11,468.15 94.73,470.98 95.34,468.18 95.96,469.83 96.57,471.99 97.19,471.08 97.80,469.83 98.42,470.49 99.03,463.83 99.64,470.46 100.26,466.59 100.87,465.00 101.49,468.18 102.10,468.82 102.72,466.63 103.33,465.35 103.95,467.20 104.56,467.20 105.18,470.07 105.79,469.13 106.41,468.38 107.02,470.00 107.64,467.25 108.25,465.57 108.87,467.91 109.48,467.58 110.09,466.10 110.71,465.04 111.32,466.83 111.94,461.90 112.55,467.65 113.17,467.33 113.78,463.54 114.40,466.66 114.66,464.84 115.01,467.93 115.63,462.91 116.24,464.92 116.86,467.84 117.47,468.63 118.09,462.62 118.70,465.57 119.32,467.02 119.93,465.29 120.54,469.22 121.16,464.18 121.77,466.93 122.39,464.37 123.00,468.93 123.62,466.57 124.23,466.16 124.85,463.95 125.46,470.22 126.08,468.61 126.69,468.66 127.31,469.41 127.92,467.94 128.54,465.44 129.15,464.42 129.77,463.70 130.38,466.89 131.00,462.44 131.61,464.87 132.22,466.25 132.84,468.11 133.45,468.82 133.98,465.10 134.07,464.16 134.68,466.75 135.30,468.44 135.91,467.32 136.53,466.59 137.14,465.88 137.76,467.23 138.37,466.51 138.99,468.02 139.60,464.72 140.22,466.00 140.83,465.16 141.45,466.40 142.06,466.08 142.67,470.51 143.29,468.86 143.90,469.00 144.52,462.64 145.13,465.70 145.75,465.21 146.36,467.27 146.98,462.21 147.59,468.42 148.21,468.23 148.82,463.96 149.44,464.69 150.05,465.18 150.67,466.86 151.28,468.11 151.90,470.69 152.51,466.60 153.12,468.30 153.30,467.18 153.74,470.04 154.35,468.07 154.97,468.85 155.58,464.10 156.20,465.34 156.81,463.87 157.43,468.22 158.04,466.87 158.66,465.31 159.27,465.21 159.89,467.06 160.50,465.08 161.12,464.83 161.73,467.53 162.35,471.17 162.96,466.26 163.58,465.66 164.19,464.52 164.80,464.15 165.42,467.25 166.03,467.59 166.65,465.83 167.26,466.16 167.88,465.71 168.23,465.73 168.49,462.72 169.11,464.57 169.72,465.49 170.34,463.75 170.95,464.14 171.57,463.34 172.18,464.00 172.80,465.83 173.41,463.08 174.03,463.04 174.64,464.27 175.25,463.45 175.87,464.97 176.48,457.79 177.10,462.72 177.71,459.94 177.89,460.95 178.33,462.41 178.94,463.10 179.56,463.24 180.17,461.85 180.79,464.21 181.40,459.95 182.02,459.34 182.63,460.15 183.25,456.89 183.86,461.38 184.48,458.92 185.09,460.58 185.70,456.20 186.32,454.89 186.93,455.16 187.55,455.47 188.16,452.37 188.78,453.72 189.39,452.85 190.01,455.60 190.62,451.25 191.06,454.12 191.24,450.89 191.85,449.58 192.47,449.21 193.08,447.46 193.70,448.93 194.31,449.06 194.93,446.02 195.45,445.59 195.54,447.19 196.16,443.28 196.77,442.10 197.38,440.35 198.00,437.01 198.61,440.28 199.23,434.53 199.84,437.32 200.46,434.42 201.07,434.59 201.69,430.58 202.30,428.07 202.92,429.16 203.36,426.89 203.53,427.36 204.15,427.12 204.76,425.67 205.38,424.43 205.99,422.18 206.61,422.27 207.22,417.56 207.83,419.79 208.45,416.50 209.06,419.14 209.68,417.95 209.94,411.71 210.29,414.74 210.91,412.39 211.52,408.44 212.14,408.88 212.75,404.30 213.37,399.71 213.89,401.18 213.98,401.25 214.60,400.82 215.21,397.80 215.83,400.67 216.44,400.51 217.06,396.80 217.67,397.37 218.28,398.09 218.90,396.87 219.51,400.64 220.13,397.37 220.74,394.41 220.92,394.56 221.36,395.14 221.97,398.01 222.59,391.92 223.20,390.91 223.82,390.08 224.43,387.70 225.05,390.75 225.66,385.09 226.19,387.37 226.28,386.36 226.89,387.52 227.51,384.76 228.12,390.54 228.74,387.47 229.35,388.17 229.96,386.95 230.58,387.92 231.19,390.88 231.46,391.93 231.81,392.09 232.42,394.72 233.04,396.31 233.65,398.47 234.27,403.51 234.88,406.27 234.97,405.42 235.50,409.26 236.11,412.52 236.73,412.19 237.34,412.59 237.96,415.87 238.57,419.24 239.19,416.83 239.36,417.40 239.80,418.20 240.41,421.85 241.03,417.51 241.64,422.63 242.26,425.20 242.87,422.59 243.49,427.63 244.10,426.87 244.72,425.88 245.33,428.04 245.51,425.11 245.95,427.33 246.56,432.22 247.18,427.72 247.79,433.02 248.41,429.89 249.02,432.12 249.64,430.45 250.25,426.32 250.86,429.24 251.22,430.53 251.48,428.03 252.09,427.49 252.71,430.25 253.32,427.93 253.94,425.43 254.55,426.28 255.17,427.70 255.61,424.33 255.78,426.47 256.40,426.01 257.01,421.72 257.63,418.50 258.24,416.96 258.86,417.94 259.47,418.23 260.00,415.80 260.09,416.07 260.70,412.61 261.31,412.16 261.93,408.90 262.54,407.31 263.16,403.75 263.77,401.44 264.39,401.63 265.00,398.77 265.62,397.34 266.23,398.57 266.85,395.45 267.46,399.15 268.08,393.16 268.69,387.88 268.78,390.06 269.31,387.10 269.92,382.56 270.54,384.21 271.15,379.69 271.77,374.45 272.38,380.32 272.99,375.97 273.17,378.95 273.61,373.08 274.22,369.24 274.84,371.28 275.45,363.90 276.07,364.60 276.68,365.42 277.30,361.82 277.56,361.04 277.91,360.81 278.53,361.03 279.14,357.20 279.76,359.46 280.37,359.73 280.99,363.59 281.60,359.76 282.22,359.92 282.83,364.24 283.27,363.21 283.44,364.85 284.06,366.52 284.67,370.95 285.29,370.52 285.90,374.37 286.34,371.40 286.52,374.93 287.13,381.11 287.75,378.88 288.36,380.58 288.98,382.13 289.59,388.17 290.21,390.30 290.73,390.36 290.82,394.13 291.44,396.45 292.05,400.50 292.67,401.19 293.28,408.70 293.89,409.41 294.51,410.86 295.12,412.44 295.74,415.18 296.35,419.41 296.97,419.86 297.58,424.77 298.20,426.27 298.81,429.94 299.43,431.00 299.52,429.69 300.04,427.88 300.66,433.53 301.27,436.00 301.89,436.68 302.50,439.90 303.12,440.54 303.73,443.20 303.91,442.91 304.35,448.86 304.96,448.31 305.57,448.75 306.19,448.83 306.80,452.49 307.42,456.75 307.86,455.91 308.03,454.14 308.65,459.37 309.26,460.70 309.88,461.21 310.49,462.08 311.11,463.67 311.72,463.41 312.34,464.57 312.95,462.32 313.57,466.92 314.18,465.10 314.80,468.76 315.41,461.68 316.02,466.82 316.64,467.54 317.25,465.40 317.52,466.94 317.87,467.86 318.48,468.26 319.10,466.96 319.71,468.40 320.33,471.19 320.94,472.28 321.56,470.76 322.17,471.27 322.79,471.99 323.40,473.88 323.66,470.25 324.02,469.93 324.63,472.83 325.25,470.89 325.86,472.15 326.47,473.69 327.09,474.73 327.70,472.25 328.32,475.75 328.93,471.00 329.55,475.06 330.16,471.11 330.78,471.55 331.39,475.02 332.01,473.15 332.62,472.46 333.24,473.10 333.85,474.99 334.47,474.35 335.08,474.69 335.52,476.85 335.70,473.75 336.31,474.26 336.93,474.05 337.54,476.98 338.15,476.54 338.77,476.97 339.38,474.56 340.00,474.29 340.61,476.07 341.23,473.78 341.84,476.57 342.46,476.96 343.07,474.99 343.69,476.69 344.30,476.62 344.92,479.73 345.53,481.04 346.15,475.98 346.76,476.14 347.38,472.22 347.99,476.92 348.60,476.75 349.22,475.06 349.83,478.65 350.45,474.66 351.06,477.34 351.68,478.22 352.29,475.56 352.91,479.12 353.52,479.25 354.14,474.62 354.75,474.77 355.37,478.88 355.98,478.24 356.60,476.60 357.21,478.61 357.83,479.01 358.44,479.00 358.79,480.77 359.05,479.99 359.67,482.53 360.28,481.79 360.90,480.51 361.51,481.19 362.13,481.61 362.74,480.62 363.36,477.33 363.97,481.27 364.59,480.03 365.20,482.84 365.82,479.92 366.43,480.52 367.05,479.97 367.66,482.20 368.28,479.23 368.89,478.16 369.51,478.92 370.12,477.28 370.65,478.61 370.73,478.36 371.35,479.26 371.96,482.61 372.58,478.78 373.19,479.62 373.81,479.00 374.42,480.36 375.04,476.80 375.65,477.59 376.27,479.04 376.88,480.36 377.50,479.55 378.11,478.98 378.73,478.07 379.34,480.30 379.96,481.72 380.57,479.45 381.18,478.93 381.80,479.10 382.41,476.32 382.50,477.42 383.03,477.25 383.64,478.08 384.26,477.46 384.87,475.29 385.49,479.46 386.10,480.44 386.72,477.01 387.33,478.29 387.95,478.14 388.56,479.16 389.18,474.91 389.79,480.25 390.41,476.30 391.02,479.21 391.63,476.82 392.25,475.69 392.86,475.86 393.48,477.48 394.09,474.12 394.36,474.98 394.71,474.77 395.32,472.52 395.94,477.92 396.55,476.60 397.17,475.34 397.78,477.30 398.40,473.31 399.01,474.73 399.63,477.93 400.24,476.60 400.86,470.84 401.47,468.86 402.09,473.05 402.70,476.95 403.31,474.31 403.93,474.89 404.54,476.45 405.16,473.57 405.77,475.35 406.21,476.25 406.39,475.60 407.00,475.22 407.62,473.33 408.23,475.23 408.85,473.39 409.46,476.32 410.08,478.15 410.69,471.56 411.31,468.31 411.92,470.76 412.54,471.55 413.15,472.22 413.76,471.71 414.38,467.79 414.99,467.20 415.61,470.45 416.22,465.74 416.84,469.22 417.45,466.40 417.63,468.07 418.07,467.84 418.68,467.78 419.30,467.66 419.91,464.18 420.53,466.30 421.14,465.63 421.76,465.99 422.37,467.47 422.99,464.49 423.60,463.07 423.78,462.86 424.21,463.15 424.83,464.44 425.44,460.99 426.06,463.51 426.67,460.80 427.29,458.63 427.90,455.30 428.52,456.85 428.61,457.48 429.13,451.67 429.75,454.78 430.36,453.10 430.98,448.51 431.59,447.44 431.68,450.76 432.21,447.97 432.82,443.55 433.44,444.69 434.05,443.51 434.67,442.63 435.28,437.74 435.89,442.38 436.51,438.55 436.95,438.88 437.12,437.86 437.74,437.84 438.35,433.71 438.97,431.03 439.58,432.07 440.20,432.28 440.81,427.87 441.43,429.61 441.78,426.61 442.04,424.45 442.66,426.50 443.27,420.67 443.89,422.40 444.50,418.51 445.12,419.12 445.73,415.00 446.34,414.63 446.96,416.70 447.05,414.90 447.57,413.13 448.19,410.30 448.80,410.00 449.42,405.26 450.03,405.26 450.12,407.00 450.65,406.07 451.26,407.03 451.88,409.20 452.49,410.08 453.11,410.99 453.63,415.27 453.72,414.24 454.34,415.76 454.95,414.70 455.57,415.12 456.18,414.73 456.79,418.02 457.15,415.60 457.41,419.00 458.02,423.04 458.64,426.20 459.25,426.64 459.87,424.94 460.48,428.76 460.66,426.85 461.10,430.75 461.71,430.47 462.33,433.62 462.94,438.47 463.56,437.32 464.17,441.68 464.79,439.63 465.40,440.13 465.49,443.29 466.02,444.97 466.63,442.05 467.25,444.40 467.86,442.95 468.47,446.62 469.09,449.95 469.70,449.49 470.32,449.81 470.93,450.00 471.55,454.88 472.16,457.32 472.78,458.60 473.39,459.33 474.01,457.76 474.62,464.35 475.24,462.14 475.85,462.95 476.47,465.39 477.08,460.94 477.34,465.01 477.70,465.25 478.31,466.77 478.92,468.97 479.54,467.81 480.15,464.05 480.77,467.10 481.38,468.02 482.00,467.76 482.61,465.02 483.23,464.15 483.84,468.35 484.46,468.49 485.07,468.34 485.69,465.78 486.30,472.55 486.92,464.51 487.44,469.40 487.53,473.87 488.15,470.21 488.76,471.30 489.37,469.24 489.99,474.28 490.60,469.98 491.22,473.22 491.83,473.06 492.45,470.80 493.06,474.15 493.68,469.84 494.29,471.35 494.91,473.20 495.52,473.15 495.79,475.00 496.14,476.17 496.75,474.53 497.37,474.30 497.98,474.55 498.60,475.03 499.21,477.35 499.83,475.42 500.44,476.41 501.05,475.37 501.67,473.87 502.28,477.06 502.90,473.94 503.51,476.12 504.13,479.06 504.74,474.68 505.36,476.80 505.88,474.25 505.97,476.21 506.59,474.66 507.20,476.90 507.82,476.31 508.43,477.23 509.05,479.54 509.66,476.89 510.28,477.57 510.89,476.42 511.50,476.19 512.12,475.23 512.73,473.50 513.35,476.74 513.96,479.42 514.58,477.20 515.19,475.23 515.81,478.90 516.42,474.88 517.04,474.28 517.65,472.94 518.27,473.23 518.88,474.37 519.50,478.26 520.11,474.15 520.73,472.43 520.81,473.15 521.34,473.58 521.95,470.59 522.57,473.58 523.18,474.43 523.80,473.90 524.41,474.55 525.03,471.29 525.64,470.69 526.26,475.50 526.87,474.58 527.49,469.26 528.10,471.82 528.72,471.12 529.33,471.78 529.95,470.89 530.56,469.33 531.18,470.45 531.79,470.44 532.41,470.13 533.02,466.94 533.63,464.86 534.25,468.29 534.86,466.24 535.48,469.11 536.09,469.43 536.71,468.56 537.32,467.45 537.94,468.27 538.55,470.29 539.17,466.85 539.78,469.75 540.40,469.29 541.01,468.41 541.63,470.38 542.24,466.07 542.86,468.64 543.47,464.87 544.08,464.75 544.70,464.02 545.31,466.54 545.93,463.85 546.54,465.45 547.16,463.24 547.77,467.18 548.39,468.55 549.00,465.64 549.62,468.10 550.23,465.94 550.85,468.63 551.11,464.82 551.46,461.70 552.08,466.93 552.69,463.35 553.31,461.04 553.92,461.05 554.53,458.62 555.15,461.03 555.76,459.26 556.38,463.73 556.99,462.13 557.61,458.12 558.22,458.80 558.84,460.93 559.45,458.93 560.07,462.45 560.68,462.32 561.30,460.77 561.65,461.06 561.91,462.87 562.53,464.39 563.14,464.12 563.76,461.14 564.37,462.31 564.99,459.17 565.60,461.49 566.21,459.49 566.83,463.01 567.44,459.97 568.06,461.03 568.67,463.39 569.29,465.05 569.90,462.09 570.52,464.26 571.13,465.56 571.31,465.75 571.75,463.89 572.36,465.69 572.98,465.18 573.59,468.79 574.21,467.96 574.82,465.27 575.44,464.38 576.05,468.98 576.66,471.19 577.28,469.60 577.89,471.06 578.51,468.79 579.12,467.44 579.74,471.42 580.09,470.31 580.35,471.40 580.97,467.72 581.58,470.09 582.20,468.16 582.81,470.24 583.43,467.22 584.04,467.16 584.66,467.38 585.27,470.91 585.89,468.89 586.50,467.66 587.11,467.35 587.73,467.51 588.34,472.27 588.43,466.41 588.96,468.27 589.57,470.38 590.19,470.80 590.80,467.86 591.42,469.00 592.03,469.30 592.65,470.21 593.26,469.03 593.88,472.45 594.49,470.10 595.11,472.53 595.72,467.84 596.34,471.57 596.95,467.69 597.57,467.34 598.18,471.03 598.79,468.75 599.41,471.17 600.02,468.50 600.64,473.39 601.25,470.60 601.87,468.65 602.48,471.07 603.10,472.39 603.71,469.48 603.80,471.81"/>
<polyline fill="none" stroke="#000" stroke-width="1.5" stroke-linejoin="round" points="682.70,284.62 683.31,285.68 683.93,288.92 684.54,286.83 685.16,282.40 685.77,285.06 686.39,283.76 687.00,285.22 687.62,282.12 688.23,285.52 688.85,285.57 689.46,287.93 690.08,285.60 690.69,285.89 691.31,282.23 691.92,288.75 692.54,280.96 693.15,286.11 693.76,283.24 694.38,282.11 694.99,282.55 695.61,282.56 696.22,284.50 696.84,283.65 697.45,286.57 698.07,280.65 698.68,283.99 699.30,282.43 699.91,285.48 700.26,280.30 700.53,283.51 701.14,284.55 701.76,281.54 702.37,286.16 702.99,284.97 703.60,286.73 704.22,286.90 704.83,283.55 705.44,283.72 706.06,284.63 706.67,286.19 707.29,286.21 707.90,282.88 708.52,282.54 709.13,281.68 709.75,281.55 710.36,281.98 710.98,282.10 711.59,285.98 712.21,281.31 712.82,281.59 713.44,282.76 714.05,280.04 714.67,280.92 715.28,281.42 715.89,282.48 716.51,278.41 717.12,282.95 717.74,279.55 718.35,281.10 718.70,282.76 718.97,282.75 719.58,284.24 720.20,283.43 720.81,283.33 721.43,283.79 722.04,281.29 722.66,285.13 723.27,281.31 723.89,279.95 724.50,285.43 725.12,281.00 725.73,278.64 726.34,284.55 726.96,281.09 727.57,284.05 728.19,281.11 728.80,282.67 729.42,280.62 730.03,280.76 730.65,282.98 731.26,284.75 731.88,285.97 732.49,288.54 733.11,281.96 733.72,285.32 734.34,282.44 734.95,283.28 735.57,280.91 736.18,280.93 736.80,282.14 737.15,281.36 737.41,283.48 738.02,282.15 738.64,285.60 739.25,283.47 739.87,283.28 740.48,284.81 741.10,283.47 741.71,282.28 742.33,282.08 742.94,281.91 743.56,283.96 744.17,283.32 744.79,282.61 745.40,283.43 746.02,281.05 746.63,282.99 747.25,279.66 747.86,284.80 748.47,282.71 749.09,283.05 749.70,283.84 750.32,282.62 750.93,282.05 751.55,284.53 752.16,282.51 752.78,280.81 753.39,283.41 754.01,279.70 754.62,285.91 755.24,282.80 755.59,283.29 755.85,287.35 756.47,287.34 757.08,283.85 757.70,284.67 758.31,285.21 758.92,285.97 759.54,282.40 760.15,282.65 760.77,284.60 761.38,282.87 762.00,283.72 762.61,283.44 763.23,279.97 763.84,280.13 764.46,276.59 765.07,280.54 765.69,283.11 766.30,278.41 766.92,282.34 767.53,281.62 768.15,279.82 768.76,280.53 769.38,281.33 769.99,280.25 770.52,281.83 770.60,282.19 771.22,282.95 771.83,282.84 772.45,279.63 773.06,282.00 773.68,278.99 774.29,280.02 774.91,280.91 775.52,280.11 776.14,279.58 776.75,279.76 777.37,277.73 777.98,277.00 778.60,277.26 779.21,278.84 779.83,276.40 780.44,279.48 781.05,275.89 781.67,270.53 781.93,275.25 782.28,279.24 782.90,276.61 783.51,276.14 784.13,274.68 784.74,277.55 785.36,275.85 785.97,274.11 786.59,272.99 787.20,274.76 787.82,273.56 788.43,269.74 788.96,273.20 789.05,272.02 789.66,270.79 790.28,271.49 790.89,269.10 791.50,262.42 791.59,270.28 792.12,266.92 792.73,261.80 792.91,261.16 793.35,263.39 793.96,263.37 794.23,266.72 794.58,265.78 795.19,265.42 795.81,264.07 796.42,264.10 797.04,266.46 797.65,265.34 798.27,262.02 798.88,259.18 799.50,256.09 800.02,257.48 800.11,258.88 800.73,251.83 801.34,255.74 801.96,248.54 802.13,251.44 802.57,252.60 803.18,249.05 803.80,248.20 804.41,250.58 805.03,250.55 805.64,246.14 806.26,247.46 806.87,241.69 807.49,244.45 808.10,240.68 808.72,240.01 809.33,239.76 809.95,238.23 810.56,239.21 811.18,237.89 811.44,234.02 811.79,231.55 812.41,227.56 813.02,226.03 813.63,224.89 814.25,221.85 814.42,221.06 814.86,218.88 815.48,216.08 816.09,207.62 816.18,207.27 816.71,200.89 817.32,181.60 817.50,173.43 817.94,159.99 818.38,138.15 818.55,131.29 819.17,101.06 819.43,101.60 819.78,106.90 820.40,135.73 821.01,166.62 821.45,184.34 821.63,189.39 822.24,206.37 822.77,209.48 822.86,209.51 823.47,208.50 824.08,207.72 824.70,206.30 825.31,206.51 825.84,201.72 825.93,203.94 826.54,199.27 827.16,200.52 827.77,198.52 828.39,199.86 828.48,197.57 829.00,192.91 829.62,189.83 830.23,183.75 830.85,177.33 831.11,175.56 831.46,172.32 832.08,175.15 832.69,166.99 833.31,166.25 833.74,161.96 833.92,162.19 834.54,165.82 835.15,169.62 835.76,175.99 836.38,177.31 836.99,185.57 837.61,193.89 838.22,196.41 838.84,206.17 839.45,207.63 839.89,212.16 840.07,212.83 840.68,217.46 841.30,214.99 841.91,218.00 842.53,220.43 842.97,216.52 843.14,218.17 843.76,210.28 844.37,199.81 844.72,195.79 844.99,190.01 845.60,176.00 845.86,167.16 846.21,158.17 846.83,144.04 846.92,143.55 847.44,149.78 847.97,155.53 848.06,164.20 848.67,173.21 849.11,182.52 849.29,187.66 849.90,205.98 850.52,220.90 850.87,223.18 851.13,227.32 851.75,232.21 852.36,235.45 852.98,241.47 853.59,243.99 854.21,242.64 854.38,247.55 854.82,242.98 855.44,246.67 856.05,244.76 856.66,245.56 857.28,246.10 857.89,248.83 858.51,245.42 859.12,247.41 859.74,250.60 860.09,246.57 860.35,247.68 860.97,248.60 861.58,245.86 862.20,247.12 862.81,244.34 863.43,246.15 864.04,244.28 864.66,241.70 865.27,245.10 865.80,241.44 865.89,240.94 866.50,238.41 867.12,237.59 867.73,236.38 868.34,234.95 868.96,234.67 869.57,228.26 870.19,227.87 870.80,228.35 871.42,223.91 871.51,223.94 872.03,223.81 872.65,218.81 873.26,216.19 873.88,213.08 874.49,214.02 875.11,210.30 875.72,204.56 876.34,203.95 876.77,198.70 876.95,201.81 877.57,197.67 878.18,192.51 878.79,188.43 879.41,182.45 880.02,183.48 880.64,178.28 881.25,174.10 881.87,170.93 882.48,163.53 882.92,160.28 883.10,158.71 883.71,152.25 884.33,154.30 884.94,145.05 885.56,140.63 886.17,139.57 886.79,130.01 887.31,134.85 887.40,134.95 888.02,135.32 888.63,142.40 889.24,143.29 889.86,151.63 889.95,153.73 890.47,151.06 891.09,155.63 891.70,161.27 892.14,164.65 892.32,164.85 892.93,171.74 893.55,177.06 894.16,180.12 894.34,184.10 894.78,186.50 895.39,192.28 896.01,198.83 896.62,210.91 896.71,209.48 897.24,216.66 897.85,213.76 898.47,218.58 899.08,222.47 899.69,224.31 900.13,227.66 900.31,227.96 900.92,230.02 901.54,230.45 902.15,236.34 902.77,244.81 903.12,245.02 903.38,247.47 904.00,246.89 904.61,250.35 905.23,251.28 905.84,255.31 906.46,256.45 906.63,257.65 907.07,261.31 907.69,258.73 908.30,264.17 908.92,262.77 909.53,269.46 910.15,268.47 910.76,269.91 911.37,270.88 911.99,274.08 912.60,271.51 913.22,271.45 913.66,270.91 913.83,273.85 914.45,272.94 915.06,274.77 915.68,276.70 916.29,278.82 916.91,277.13 917.17,279.94 917.52,282.33 918.14,277.25 918.75,283.63 919.37,286.26 919.98,282.46 920.33,285.25 920.60,282.12 921.21,285.75 921.82,284.99 922.44,286.52 923.05,284.69 923.67,285.40 924.28,286.72 924.90,286.85 925.07,287.17 925.51,288.33 926.13,287.15 926.74,288.99 927.36,290.22 927.97,285.24 928.59,289.76 929.20,288.05 929.82,287.28 930.34,286.70 930.43,287.55 931.05,287.44 931.66,289.15 932.27,285.96 932.89,289.73 933.42,285.98 933.50,288.55 934.12,285.74 934.73,276.03 934.91,278.68 935.35,276.04 935.96,264.56 936.31,265.01 936.58,264.79 937.19,272.14 937.72,277.37 937.81,277.42 938.42,283.70 939.04,287.52 939.65,288.20 940.00,291.61 940.27,291.17 940.88,291.14 941.50,289.14 942.11,294.80 942.73,294.96 943.34,289.81 943.95,292.68 944.57,294.36 945.18,296.50 945.27,296.99 945.80,293.81 946.41,294.27 947.03,294.57 947.64,291.16 948.26,294.65 948.87,293.18 949.49,294.20 949.66,293.83 950.10,291.76 950.72,292.06 951.33,293.90 951.95,294.03 952.56,293.21 953.18,295.38 953.79,292.60 954.40,290.84 955.02,292.31 955.63,293.18 956.25,293.83 956.86,296.73 957.48,296.12 958.09,297.17 958.71,296.37 959.32,294.93 959.94,297.07 960.55,294.77 961.17,295.79 961.78,293.63 962.40,295.70 963.01,294.88 963.63,295.77 964.24,298.00 964.59,298.78 964.85,296.18 965.47,293.85 966.08,295.48 966.70,294.44 967.31,292.93 967.93,293.86 968.54,293.29 969.16,292.34 969.77,295.58 970.39,291.77 971.00,291.62 971.62,293.71 972.23,291.12 972.85,290.26 973.46,290.65 974.08,292.25 974.69,291.30 975.31,290.44 975.92,288.39 976.53,287.82 976.89,291.33 977.15,287.29 977.76,289.99 978.38,288.51 978.99,290.55 979.61,291.29 980.22,294.08 980.84,287.04 981.45,294.88 982.07,290.71 982.68,292.73 983.30,293.56 983.91,290.65 984.53,292.07 985.14,293.31 985.76,292.38 986.37,291.46 986.98,293.68 987.60,294.24 988.21,292.02 988.83,297.81 989.44,296.10 990.06,291.24 990.67,293.97 991.29,298.39 991.81,297.97 991.90,295.63 992.52,292.30 993.13,295.10 993.75,297.62 994.36,296.62 994.98,295.27 995.59,294.46 996.21,297.20 996.82,295.25 997.43,296.22 998.05,296.59 998.66,298.73 999.28,296.18 999.89,296.29 1000.16,292.49 1000.51,297.54 1001.12,296.80 1001.74,294.76 1002.35,290.24 1002.97,292.66 1003.58,293.13 1004.20,296.06 1004.81,292.61 1005.43,292.95 1006.04,293.26 1006.66,294.45 1007.27,290.29 1007.89,290.74 1008.50,289.64 1009.11,290.78 1009.73,290.22 1010.34,290.70 1010.96,288.82 1011.57,290.98 1012.19,289.42 1012.80,294.89 1013.42,289.77 1014.03,294.86 1014.65,292.70 1015.26,287.02 1015.53,290.64 1015.88,289.79 1016.49,284.54 1017.11,286.27 1017.72,282.76 1018.34,281.58 1018.95,277.96 1019.04,279.31 1019.56,280.24 1020.18,280.11 1020.79,280.80 1021.41,283.85 1022.02,284.36 1022.64,288.09 1022.99,283.18 1023.25,290.59 1023.87,287.84 1024.48,288.17 1025.10,288.25 1025.71,283.74 1026.33,289.12 1026.94,281.79 1027.56,283.45 1028.17,282.04 1028.70,282.89 1028.79,280.40 1029.40,277.17 1030.01,279.56 1030.63,273.76 1031.24,277.07 1031.86,275.67 1032.47,278.35 1033.09,274.06 1033.70,272.77 1034.32,271.16 1034.84,270.04 1034.93,270.43 1035.55,271.44 1036.16,266.94 1036.78,268.12 1037.39,265.53 1038.01,267.52 1038.62,267.71 1039.24,264.73 1039.85,264.33 1040.47,263.86 1040.55,264.81 1041.08,263.57 1041.69,259.73 1042.31,256.32 1042.92,253.32 1043.54,255.58 1044.15,254.38 1044.77,250.11 1044.94,251.59 1045.38,245.50 1046.00,240.50 1046.61,238.30 1047.23,228.74 1047.84,228.99 1048.02,228.47 1048.46,228.24 1049.07,231.63 1049.69,227.62 1050.30,229.03 1050.92,226.47 1051.53,228.53 1052.14,228.73 1052.76,227.00 1053.37,224.73 1053.99,222.96 1054.60,218.98 1055.22,214.67 1055.83,216.48 1056.45,214.92 1057.06,210.17 1057.68,209.27 1058.29,212.42 1058.91,210.26 1058.99,210.31 1059.52,209.78 1060.14,210.27 1060.75,212.08 1061.37,217.82 1061.98,220.35 1062.51,223.09 1062.59,224.37 1063.21,228.03 1063.82,233.77 1064.44,234.49 1065.05,244.54 1065.58,241.01 1065.67,242.37 1066.28,246.86 1066.90,245.44 1067.51,247.72 1068.13,250.16 1068.74,246.42 1069.36,252.58 1069.97,253.45 1070.59,256.48 1071.20,260.01 1071.82,262.76 1072.43,266.78 1073.05,269.06 1073.66,270.41 1074.27,269.90 1074.89,273.17 1075.24,270.15 1075.50,272.28 1076.12,276.31 1076.73,275.76 1077.35,272.35 1077.96,274.20 1078.58,277.03 1079.19,277.34 1079.63,278.81 1079.81,273.80 1080.42,274.61 1081.04,275.60 1081.65,272.66 1082.27,272.16 1082.88,270.27 1083.50,269.46 1084.02,268.07 1084.11,269.35 1084.72,270.71 1085.34,271.51 1085.95,271.35 1086.57,278.08 1087.18,278.11 1087.53,279.12 1087.80,278.89 1088.41,275.73 1089.03,279.36 1089.64,276.15 1090.26,273.93 1090.87,277.72 1091.05,274.74 1091.49,276.00 1092.10,278.35 1092.72,281.75 1093.33,278.14 1093.95,282.88 1094.56,288.11 1095.17,288.14 1095.79,285.09 1096.32,291.79 1096.40,291.94 1097.02,292.90 1097.63,291.85 1098.25,290.56 1098.86,291.57 1099.48,290.85 1100.09,289.27 1100.71,289.37 1101.32,287.83 1101.94,282.98 1102.55,284.15 1103.17,282.14 1103.78,280.80 1104.40,273.84 1104.66,279.09 1105.01,279.13 1105.63,278.76 1106.24,283.60 1106.85,282.18 1107.47,289.39 1108.08,289.89 1108.61,289.42 1108.70,293.03 1109.31,292.04 1109.93,292.53 1110.54,290.13 1111.16,293.66 1111.77,295.43 1112.39,295.02 1113.00,290.80 1113.62,295.67 1114.23,296.03 1114.85,294.59 1115.46,292.27 1116.08,290.55 1116.69,292.07 1117.30,293.07 1117.39,294.67 1117.92,295.51 1118.53,293.32 1119.15,291.56 1119.76,293.63 1120.38,291.81 1120.99,296.53 1121.61,292.11 1122.22,295.43 1122.84,296.27 1123.45,293.20 1124.07,296.34 1124.68,293.69 1125.30,291.93 1125.91,291.07 1126.53,292.75 1127.14,294.52 1127.75,289.15 1128.37,293.73 1128.98,292.25 1129.60,290.83 1130.21,291.66 1130.83,291.45 1131.44,290.96 1132.06,292.71 1132.67,289.76 1133.29,295.12 1133.90,293.30 1134.52,290.12 1135.13,286.98 1135.75,289.72 1136.36,288.30 1136.98,289.92 1137.59,289.77 1138.21,291.82 1138.82,288.02 1139.35,289.62 1139.43,287.43 1140.05,287.57 1140.66,291.10 1141.28,288.13 1141.89,288.25 1142.51,287.48 1143.12,288.33 1143.74,288.43 1144.35,286.75 1144.97,284.56 1145.58,286.98 1146.20,284.59 1146.81,285.14 1147.43,285.90 1148.04,285.70 1148.13,281.00 1148.66,288.08 1149.27,286.18 1149.88,288.00 1150.50,288.83 1151.11,282.31 1151.73,282.75 1152.34,283.97 1152.96,284.99 1153.57,282.13 1154.19,282.24 1154.80,284.49 1155.42,280.52 1156.03,281.92 1156.65,282.87 1156.91,280.14 1157.26,281.60 1157.88,279.04 1158.49,275.10 1159.11,275.56 1159.72,274.64 1160.33,272.79 1160.95,272.73 1161.56,272.85 1162.18,272.16 1162.79,271.55 1163.41,269.45 1164.02,268.48 1164.64,267.06 1165.25,265.79 1165.69,268.89 1165.87,263.13 1166.48,267.81 1167.10,265.43 1167.71,268.48 1168.33,272.33 1168.94,270.80 1169.56,274.34 1170.17,270.61 1170.79,272.30 1171.40,272.83 1171.84,274.96 1172.01,274.74 1172.63,275.96 1173.24,278.19 1173.86,280.98 1174.47,279.60 1175.09,279.78 1175.70,279.50 1176.32,279.11 1176.93,278.34 1177.55,279.60 1178.16,282.03 1178.43,278.69 1178.78,283.59 1179.39,282.37 1180.01,282.22 1180.62,283.70 1181.24,286.58 1181.85,286.31 1182.46,285.98 1183.08,288.37 1183.25,289.30 1183.69,282.42 1184.31,286.09 1184.92,283.48 1185.54,282.73 1186.15,284.63 1186.77,287.79 1187.38,285.30 1188.00,284.90 1188.61,288.22 1189.23,286.50 1189.84,285.49 1190.46,289.02 1191.07,286.72 1191.69,284.63 1192.04,284.04 1192.30,285.06 1192.91,285.61 1193.53,286.42 1194.14,285.60 1194.76,283.65 1195.37,281.01 1195.99,284.47 1196.60,282.61 1197.22,280.12 1197.83,280.10 1198.45,283.09 1199.06,283.72 1199.68,285.02 1200.29,281.42 1200.82,286.94 1200.91,280.15 1201.52,283.24 1202.14,285.67 1202.75,285.10 1203.37,281.52 1203.98,284.44 1204.59,285.69 1205.21,284.95 1205.82,282.21 1206.44,287.43 1207.05,281.90 1207.67,285.41 1208.28,283.77 1208.90,285.28 1209.51,285.83 1209.60,287.39"/>
<polyline fill="none" stroke="#000" stroke-width="1.5" stroke-linejoin="round" points="682.70,374.18 683.31,373.47 683.93,375.92 684.54,377.84 685.16,379.84 685.77,378.70 686.39,377.99 687.00,377.51 687.62,380.20 688.23,381.71 688.85,379.17 689.46,376.15 690.08,376.33 690.69,380.61 691.31,377.76 691.92,374.71 692.54,378.41 693.15,377.20 693.76,378.88 694.38,379.50 694.99,379.01 695.61,381.20 695.87,380.04 696.22,379.03 696.84,380.66 697.45,380.89 698.07,375.92 698.68,377.88 699.30,376.04 699.91,377.09 700.53,374.70 701.14,376.66 701.76,376.16 702.37,375.91 702.99,375.27 703.60,377.13 704.22,376.56 704.83,376.46 705.44,378.89 706.06,376.07 706.67,379.76 707.29,378.53 707.90,373.65 708.52,377.74 709.13,375.27 709.75,377.31 710.36,377.20 710.98,373.37 711.59,376.35 711.68,376.28 712.21,378.31 712.82,374.43 713.44,378.10 714.05,374.99 714.67,376.55 715.28,375.76 715.89,379.71 716.51,377.95 717.12,381.13 717.74,377.73 718.35,377.77 718.97,377.43 719.58,374.50 720.20,375.16 720.81,377.40 721.43,373.94 722.04,374.71 722.66,374.08 723.10,375.06 723.27,373.33 723.89,373.82 724.50,374.65 725.12,374.54 725.73,372.96 726.34,376.29 726.96,372.51 727.57,372.86 728.19,372.90 728.80,376.76 729.42,374.04 730.03,372.60 730.65,371.97 731.26,374.88 731.88,372.93 732.49,373.25 733.11,377.34 733.72,374.63 734.34,375.96 734.95,376.27 735.39,375.28 735.57,375.90 736.18,378.13 736.80,374.90 737.41,373.73 738.02,372.86 738.64,375.96 739.25,375.78 739.87,376.91 740.48,375.61 741.10,375.59 741.71,375.22 742.33,375.78 742.94,377.19 743.56,376.40 744.17,377.45 744.79,380.75 745.40,378.24 746.02,374.58 746.63,380.57 746.81,378.09 747.25,375.93 747.86,379.45 748.47,378.01 749.09,377.00 749.70,376.74 750.32,375.39 750.93,376.56 751.55,377.67 752.16,374.50 752.78,375.53 753.39,377.84 754.01,371.98 754.62,374.34 755.24,373.34 755.85,372.06 756.47,372.22 757.08,374.18 757.70,374.93 758.22,373.04 758.31,374.07 758.92,375.16 759.54,374.36 760.15,375.55 760.77,375.37 761.38,376.02 762.00,379.04 762.61,377.51 763.23,376.58 763.84,377.58 764.46,374.57 765.07,375.51 765.69,377.77 766.30,377.81 766.92,379.71 767.00,376.97 767.53,374.46 768.15,380.70 768.76,379.18 769.38,375.28 769.99,379.59 770.60,377.04 771.22,373.43 771.83,375.64 772.45,375.16 773.06,378.62 773.68,373.86 774.29,374.34 774.91,373.83 775.52,373.20 775.79,372.06 776.14,374.11 776.75,375.69 777.37,374.92 777.98,372.19 778.60,371.76 779.21,373.82 779.83,372.09 780.44,371.97 781.05,369.79 781.67,375.40 781.93,373.13 782.28,369.17 782.90,371.51 783.51,371.18 784.13,364.04 784.74,367.19 785.36,367.27 785.97,368.90 786.59,367.07 787.20,366.15 787.82,365.74 788.08,368.88 788.43,369.02 789.05,363.42 789.66,361.83 790.28,367.45 790.89,359.94 791.50,359.76 792.12,359.99 792.73,359.94 793.35,360.11 793.79,358.41 793.96,355.92 794.58,357.83 795.19,356.93 795.81,359.47 796.42,355.67 797.04,352.87 797.65,352.89 798.27,356.81 798.88,352.57 799.50,348.99 800.11,350.63 800.73,350.28 801.34,350.79 801.96,345.06 802.57,346.43 803.18,345.09 803.80,340.93 804.41,340.56 804.77,343.44 805.03,342.80 805.64,340.04 806.26,337.99 806.87,338.41 807.49,335.06 808.10,333.86 808.72,331.16 809.33,331.30 809.95,329.59 810.03,334.49 810.56,327.92 811.18,328.92 811.79,327.22 812.41,322.58 813.02,323.20 813.63,315.44 814.25,317.74 814.86,317.31 815.48,309.46 816.09,309.27 816.71,310.90 817.32,306.28 817.94,302.63 818.55,302.47 818.82,301.59 819.17,303.13 819.78,301.40 820.40,298.89 821.01,296.97 821.63,296.86 822.24,298.16 822.86,295.27 823.47,294.71 824.08,292.27 824.70,289.22 825.31,289.30 825.84,290.93 825.93,289.78 826.54,286.73 827.16,284.14 827.77,285.91 828.39,283.75 829.00,282.68 829.62,281.78 830.23,282.06 830.85,281.39 831.46,281.75 832.08,280.81 832.69,280.92 832.87,279.84 833.31,277.69 833.92,278.81 834.54,281.40 835.15,281.96 835.76,285.80 836.38,289.32 836.99,287.74 837.61,287.81 837.70,293.39 838.22,292.81 838.84,296.05 839.45,294.86 840.07,303.08 840.68,304.03 841.30,305.18 841.91,307.30 842.53,310.39 843.14,312.04 843.76,313.99 844.37,314.56 844.99,320.68 845.60,320.06 846.21,321.84 846.83,323.28 846.92,319.06 847.44,325.27 848.06,324.97 848.67,326.30 849.29,328.16 849.90,328.04 850.52,333.39 851.13,332.51 851.75,333.78 852.36,334.96 852.98,336.92 853.06,337.96 853.59,335.41 854.21,333.53 854.82,337.87 855.44,333.76 856.05,337.50 856.66,334.88 857.28,333.33 857.89,332.93 858.51,334.36 858.77,334.89 859.12,332.60 859.74,334.03 860.35,335.50 860.97,330.86 861.58,328.60 862.20,328.13 862.81,326.84 863.43,327.52 864.04,326.63 864.66,324.74 865.27,327.22 865.89,320.42 866.24,322.04 866.50,327.47 867.12,324.10 867.73,321.24 868.34,319.16 868.96,319.56 869.57,315.33 870.19,312.55 870.63,308.87 870.80,310.31 871.42,306.90 872.03,304.76 872.65,302.54 873.26,301.51 873.88,298.72 874.49,298.50 875.11,292.05 875.46,292.63 875.72,295.11 876.34,289.23 876.95,288.61 877.57,285.65 878.18,283.06 878.79,278.89 879.41,271.74 880.02,270.61 880.29,269.15 880.64,265.40 881.25,264.51 881.87,260.66 882.48,257.57 883.10,258.76 883.71,256.35 884.33,253.02 884.68,251.41 884.94,251.33 885.56,249.67 886.17,247.88 886.79,247.58 887.31,246.86 887.40,248.40 888.02,249.88 888.63,251.99 889.24,253.28 889.86,256.81 890.47,262.13 890.83,262.81 891.09,264.41 891.70,263.29 892.32,265.97 892.93,274.62 893.55,277.81 894.16,282.88 894.34,282.54 894.78,284.07 895.39,287.03 896.01,287.73 896.62,295.19 897.24,295.88 897.85,301.35 898.47,304.42 898.73,306.16 899.08,309.56 899.69,311.45 900.31,316.14 900.92,319.89 901.54,325.19 902.15,332.92 902.77,333.10 903.12,337.74 903.38,338.33 904.00,340.83 904.61,343.38 905.23,341.88 905.84,345.66 906.46,349.06 907.07,346.14 907.69,348.68 908.30,349.31 908.39,351.39 908.92,350.55 909.53,357.44 910.15,355.98 910.76,355.99 911.37,364.03 911.99,364.48 912.60,365.41 913.22,366.67 913.66,365.69 913.83,366.15 914.45,368.54 915.06,369.50 915.68,370.26 916.29,369.91 916.91,369.57 917.52,370.90 918.14,374.09 918.75,375.79 919.37,373.66 919.98,374.48 920.24,378.04 920.60,377.70 921.21,378.17 921.82,374.98 922.44,377.09 923.05,377.23 923.67,379.22 924.28,376.71 924.90,382.91 925.51,382.01 926.13,382.88 926.74,380.09 927.36,382.26 927.97,384.75 928.59,379.53 929.20,383.17 929.82,384.12 930.43,381.84 931.05,384.76 931.66,383.09 932.27,386.36 932.89,385.54 933.50,385.43 934.12,388.90 934.73,386.80 935.35,387.67 935.96,383.19 936.58,384.24 937.19,387.36 937.81,387.94 938.42,386.67 938.69,388.37 939.04,385.33 939.65,387.38 940.27,384.57 940.88,386.89 941.50,385.05 942.11,384.92 942.73,386.69 943.34,390.38 943.95,385.81 944.57,386.98 945.18,390.23 945.80,387.79 946.41,391.96 947.03,389.40 947.64,389.30 948.26,389.90 948.87,392.50 949.49,390.64 950.10,390.58 950.54,390.26 950.72,387.05 951.33,388.48 951.95,392.96 952.56,391.91 953.18,391.40 953.79,391.69 954.40,389.61 955.02,391.21 955.63,388.83 956.25,391.00 956.86,388.85 957.48,389.57 958.09,390.66 958.71,389.14 958.88,390.86 959.32,390.42 959.94,390.10 960.55,391.93 961.17,387.15 961.78,387.18 962.40,391.40 963.01,392.06 963.63,393.69 964.24,391.12 964.85,390.94 965.47,387.54 966.08,390.56 966.70,390.49 967.31,387.45 967.93,387.82 968.54,389.24 969.16,389.95 969.77,384.13 970.39,389.58 970.74,389.88 971.00,389.02 971.62,389.52 972.23,389.57 972.85,386.64 973.46,388.91 974.08,387.43 974.69,385.90 975.31,387.70 975.92,389.72 976.53,384.45 977.15,384.19 977.76,384.29 978.38,390.92 978.99,387.06 979.61,387.59 980.22,386.47 980.84,386.39 981.45,384.50 982.07,388.23 982.68,388.16 983.30,383.91 983.91,385.37 984.53,386.22 985.14,387.82 985.76,388.63 986.37,390.54 986.98,390.92 987.60,390.19 988.21,390.49 988.83,385.78 989.44,386.81 990.06,389.94 990.67,388.47 991.29,388.06 991.90,384.52 992.52,384.62 993.13,389.18 993.75,388.36 994.36,387.10 994.98,387.00 995.59,384.77 996.21,388.68 996.82,390.00 997.43,391.29 997.52,388.46 998.05,388.21 998.66,386.83 999.28,391.20 999.89,392.10 1000.51,387.54 1001.12,388.76 1001.74,387.99 1002.35,386.36 1002.97,382.76 1003.58,386.45 1004.20,388.05 1004.81,384.19 1005.43,385.04 1006.04,380.37 1006.66,388.33 1007.27,386.64 1007.89,385.73 1008.50,385.31 1009.11,384.80 1009.38,385.87 1009.73,385.54 1010.34,385.68 1010.96,385.38 1011.57,384.97 1012.19,386.83 1012.80,380.72 1013.42,383.64 1014.03,381.98 1014.65,380.98 1015.26,378.68 1015.88,384.02 1016.49,381.20 1017.11,381.65 1017.72,383.88 1018.34,381.06 1018.95,382.87 1019.56,382.49 1020.18,383.87 1020.79,384.04 1021.41,379.99 1022.02,382.51 1022.64,379.97 1023.25,379.63 1023.87,378.69 1024.48,380.28 1025.10,376.47 1025.71,378.85 1026.06,380.33 1026.33,377.18 1026.94,380.03 1027.56,373.60 1028.17,373.75 1028.79,371.02 1029.40,370.25 1030.01,368.77 1030.63,369.20 1031.24,369.47 1031.86,366.94 1032.47,368.72 1033.09,368.68 1033.70,362.05 1034.32,365.06 1034.93,362.57 1035.55,361.34 1036.16,364.00 1036.78,360.44 1037.39,357.68 1038.01,356.17 1038.62,350.67 1039.24,354.59 1039.67,351.10 1039.85,352.44 1040.47,351.07 1041.08,351.24 1041.69,351.68 1042.31,348.16 1042.92,347.00 1043.54,342.63 1044.15,342.27 1044.50,341.97 1044.77,337.31 1045.38,342.00 1046.00,335.50 1046.61,332.98 1047.23,336.70 1047.84,335.99 1048.46,329.31 1049.07,327.85 1049.69,332.90 1049.77,327.26 1050.30,322.11 1050.92,322.83 1051.53,325.70 1052.14,321.44 1052.76,319.76 1053.37,318.88 1053.99,316.43 1054.60,313.49 1055.22,310.19 1055.83,312.55 1056.45,308.51 1057.06,309.31 1057.68,311.66 1058.29,309.42 1058.56,308.61 1058.91,309.01 1059.52,311.93 1060.14,314.81 1060.75,313.38 1061.19,317.70 1061.37,321.04 1061.98,321.39 1062.59,320.80 1063.21,323.32 1063.82,323.45 1064.26,327.65 1064.44,332.76 1065.05,332.68 1065.67,334.26 1066.28,337.23 1066.90,340.40 1067.51,342.48 1067.78,342.80 1068.13,342.99 1068.74,347.62 1069.36,351.31 1069.97,349.48 1070.59,351.41 1071.20,356.06 1071.82,352.55 1072.43,355.36 1073.05,356.97 1073.48,358.83 1073.66,358.58 1074.27,359.42 1074.89,363.53 1075.50,362.78 1076.12,363.68 1076.73,364.02 1077.35,369.75 1077.96,365.88 1078.58,370.23 1078.75,370.71 1079.19,371.50 1079.81,370.46 1080.42,370.49 1081.04,372.29 1081.65,371.68 1082.27,370.99 1082.88,376.09 1083.50,372.71 1084.11,378.03 1084.72,376.24 1085.34,374.98 1085.95,377.04 1086.57,378.90 1087.18,374.98 1087.80,376.60 1088.41,377.16 1089.03,380.11 1089.64,380.67 1090.26,379.64 1090.87,377.91 1091.49,377.89 1092.10,380.74 1092.72,380.75 1093.33,379.10 1093.95,376.63 1094.56,380.23 1095.17,379.94 1095.79,380.19 1096.40,383.16 1097.02,381.82 1097.63,378.92 1098.25,379.27 1098.86,383.83 1098.95,381.76 1099.48,383.27 1100.09,381.57 1100.71,379.83 1101.32,381.90 1101.94,384.00 1102.55,381.67 1103.17,379.52 1103.78,381.47 1104.40,381.62 1105.01,383.32 1105.63,385.00 1106.24,386.82 1106.85,383.79 1107.47,382.72 1108.08,383.64 1108.70,383.46 1109.31,382.60 1109.49,383.39 1109.93,383.31 1110.54,381.20 1111.16,384.46 1111.77,382.99 1112.39,382.06 1113.00,384.90 1113.62,383.24 1114.23,387.35 1114.85,385.17 1115.46,384.55 1116.08,383.29 1116.69,384.22 1117.30,386.77 1117.92,384.28 1118.53,387.05 1119.15,381.92 1119.76,386.06 1120.38,387.14 1120.99,386.30 1121.61,386.14 1121.78,388.09 1122.22,385.04 1122.84,385.23 1123.45,387.61 1124.07,389.70 1124.68,388.38 1125.30,387.32 1125.91,388.27 1126.53,388.30 1127.14,384.84 1127.75,381.59 1128.37,384.37 1128.98,383.22 1129.60,384.88 1130.21,383.77 1130.83,384.39 1131.44,386.73 1132.06,385.70 1132.67,385.04 1133.29,387.64 1133.90,383.38 1134.52,383.57 1135.13,386.77 1135.75,382.72 1136.36,382.02 1136.98,387.50 1137.59,385.88 1138.21,386.48 1138.47,386.60 1138.82,387.15 1139.43,384.75 1140.05,385.36 1140.66,383.38 1141.28,385.51 1141.89,385.54 1142.51,384.15 1143.12,385.99 1143.74,389.93 1144.35,382.35 1144.97,385.83 1145.58,386.02 1146.20,386.23 1146.81,382.84 1147.43,386.33 1148.04,385.02 1148.13,383.58 1148.66,382.89 1149.27,383.60 1149.88,384.48 1150.50,384.08 1151.11,386.28 1151.73,381.18 1152.34,382.58 1152.96,380.69 1153.40,382.96 1153.57,381.83 1154.19,380.63 1154.80,379.41 1155.42,379.99 1156.03,380.71 1156.65,381.80 1157.26,379.42 1157.88,374.84 1158.49,375.84 1159.11,376.48 1159.72,375.87 1160.33,375.86 1160.95,376.72 1161.56,375.25 1162.18,373.16 1162.79,370.35 1163.41,372.39 1164.02,369.03 1164.64,370.77 1165.25,370.68 1165.87,366.87 1166.48,368.37 1167.10,367.62 1167.45,371.57 1167.71,368.96 1168.33,364.85 1168.94,369.39 1169.56,369.79 1170.17,369.21 1170.79,369.50 1171.40,371.73 1172.01,372.29 1172.63,372.33 1173.24,370.18 1173.86,372.02 1174.47,370.25 1175.09,370.93 1175.70,373.20 1176.32,372.92 1176.93,374.68 1177.55,380.48 1178.16,377.49 1178.78,375.56 1179.39,373.56 1180.01,376.15 1180.62,375.23 1181.24,373.98 1181.85,379.43 1182.46,377.52 1183.08,379.43 1183.69,384.45 1184.31,379.54 1184.92,379.25 1185.54,379.63 1186.15,378.48 1186.77,377.40 1187.38,378.61 1188.00,381.12 1188.61,378.63 1189.23,376.67 1189.84,377.05 1190.28,377.58 1190.46,379.50 1191.07,380.51 1191.69,380.65 1192.30,382.09 1192.91,379.78 1193.53,381.84 1194.14,381.10 1194.76,381.90 1195.37,377.12 1195.99,382.48 1196.60,377.26 1197.22,377.83 1197.83,381.31 1198.45,379.31 1199.06,383.31 1199.68,380.55 1199.94,378.48 1200.29,380.61 1200.91,379.61 1201.52,383.14 1202.14,383.31 1202.75,381.76 1203.37,379.80 1203.98,380.80 1204.59,382.66 1205.21,379.47 1205.82,379.20 1206.44,381.89 1207.05,381.42 1207.67,379.43 1208.28,379.71 1208.90,377.28 1209.51,383.53 1209.60,381.28"/>
<polyline fill="none" stroke="#000" stroke-width="1.5" stroke-linejoin="round" points="682.70,472.97 683.31,464.51 683.93,469.72 684.54,467.83 685.16,467.92 685.77,468.23 686.39,464.97 687.00,468.43 687.62,467.53 688.23,475.31 688.85,469.97 689.46,468.49 690.08,468.18 690.69,467.04 691.31,465.91 691.92,466.75 692.54,468.00 693.15,466.39 693.76,468.22 694.38,466.17 694.99,467.07 695.61,470.30 696.22,469.00 696.84,467.53 697.45,468.02 698.07,469.23 698.68,471.66 699.30,467.60 699.91,468.15 700.53,470.98 701.14,468.18 701.76,469.83 702.37,471.99 702.99,471.08 703.60,469.83 704.22,470.49 704.83,463.83 705.44,470.46 706.06,466.59 706.67,465.00 707.29,468.18 707.90,468.82 708.52,466.63 709.13,465.35 709.75,467.20 710.36,467.20 710.98,470.07 711.59,469.13 712.21,468.38 712.82,470.00 713.44,467.25 714.05,465.57 714.67,467.91 715.28,467.58 715.89,466.10 716.51,465.04 717.12,466.83 717.74,461.90 718.35,467.65 718.97,467.33 719.58,463.54 720.20,466.66 720.46,464.84 720.81,467.93 721.43,462.91 722.04,464.92 722.66,467.84 723.27,468.63 723.89,462.62 724.50,465.57 725.12,467.02 725.73,465.29 726.34,469.22 726.96,464.18 727.57,466.93 728.19,464.37 728.80,468.93 729.42,466.57 730.03,466.16 730.65,463.95 731.26,470.22 731.88,468.61 732.49,468.66 733.11,469.41 733.72,467.94 734.34,465.44 734.95,464.42 735.57,463.70 736.18,466.89 736.80,462.44 737.41,464.87 738.02,466.25 738.64,468.11 739.25,468.82 739.78,465.10 739.87,464.16 740.48,466.75 741.10,468.44 741.71,467.32 742.33,466.59 742.94,465.88 743.56,467.23 744.17,466.51 744.79,468.02 745.40,464.72 746.02,466.00 746.63,465.16 747.25,466.40 747.86,466.08 748.47,470.51 749.09,468.86 749.70,469.00 750.32,462.64 750.93,465.70 751.55,465.21 752.16,467.27 752.78,462.21 753.39,468.42 754.01,468.23 754.62,463.96 755.24,464.69 755.85,465.18 756.47,466.86 757.08,468.11 757.70,470.69 758.31,466.60 758.92,468.30 759.10,467.18 759.54,470.04 760.15,468.07 760.77,468.85 761.38,464.10 762.00,465.34 762.61,463.87 763.23,468.22 763.84,466.87 764.46,465.31 765.07,465.21 765.69,467.06 766.30,465.08 766.92,464.83 767.53,467.53 768.15,471.17 768.76,466.26 769.38,465.66 769.99,464.52 770.60,464.15 771.22,467.25 771.83,467.59 772.45,465.83 773.06,466.16 773.68,465.71 774.03,465.73 774.29,462.72 774.91,464.57 775.52,465.49 776.14,463.75 776.75,464.14 777.37,463.34 777.98,464.00 778.60,465.83 779.21,463.08 779.83,463.04 780.44,464.27 781.05,463.45 781.67,464.97 782.28,457.79 782.90,462.72 783.51,459.94 783.69,460.95 784.13,462.41 784.74,463.10 785.36,463.24 785.97,461.85 786.59,464.21 787.20,459.95 787.82,459.34 788.43,460.15 789.05,456.89 789.66,461.38 790.28,458.92 790.89,460.58 791.50,456.20 792.12,454.89 792.73,455.16 793.35,455.47 793.96,452.37 794.58,453.72 795.19,452.85 795.81,455.60 796.42,451.25 796.86,454.12 797.04,450.89 797.65,449.58 798.27,449.21 798.88,447.46 799.50,448.93 800.11,449.06 800.73,446.02 801.25,445.59 801.34,447.19 801.96,443.28 802.57,442.10 803.18,440.35 803.80,437.01 804.41,440.28 805.03,434.53 805.64,437.32 806.26,434.42 806.87,434.59 807.49,430.58 808.10,428.07 808.72,429.16 809.16,426.89 809.33,427.36 809.95,427.12 810.56,425.67 811.18,424.43 811.79,422.18 812.41,422.27 813.02,417.56 813.63,419.79 814.25,416.50 814.86,419.14 815.48,417.95 815.74,411.71 816.09,414.74 816.71,412.39 817.32,408.44 817.94,408.88 818.55,404.30 819.17,399.71 819.69,401.18 819.78,401.25 820.40,400.82 821.01,397.80 821.63,400.67 822.24,400.51 822.86,396.80 823.47,397.37 824.08,398.09 824.70,396.87 825.31,400.64 825.93,397.37 826.54,394.41 826.72,394.56 827.16,395.14 827.77,398.01 828.39,391.92 829.00,390.91 829.62,390.08 830.23,387.70 830.85,390.75 831.46,385.09 831.99,387.37 832.08,386.36 832.69,387.52 833.31,384.76 833.92,390.54 834.54,387.47 835.15,388.17 835.76,386.95 836.38,387.92 836.99,390.88 837.26,391.93 837.61,392.09 838.22,394.72 838.84,396.31 839.45,398.47 840.07,403.51 840.68,406.27 840.77,405.42 841.30,409.26 841.91,412.52 842.53,412.19 843.14,412.59 843.76,415.87 844.37,419.24 844.99,416.83 845.16,417.40 845.60,418.20 846.21,421.85 846.83,417.51 847.44,422.63 848.06,425.20 848.67,422.59 849.29,427.63 849.90,426.87 850.52,425.88 851.13,428.04 851.31,425.11 851.75,427.33 852.36,432.22 852.98,427.72 853.59,433.02 854.21,429.89 854.82,432.12 855.44,430.45 856.05,426.32 856.66,429.24 857.02,430.53 857.28,428.03 857.89,427.49 858.51,430.25 859.12,427.93 859.74,425.43 860.35,426.28 860.97,427.70 861.41,424.33 861.58,426.47 862.20,426.01 862.81,421.72 863.43,418.50 864.04,416.96 864.66,417.94 865.27,418.23 865.80,415.80 865.89,416.07 866.50,412.61 867.12,412.16 867.73,408.90 868.34,407.31 868.96,403.75 869.57,401.44 870.19,401.63 870.80,398.77 871.42,397.34 872.03,398.57 872.65,395.45 873.26,399.15 873.88,393.16 874.49,387.88 874.58,390.06 875.11,387.10 875.72,382.56 876.34,384.21 876.95,379.69 877.57,374.45 878.18,380.32 878.79,375.97 878.97,378.95 879.41,373.08 880.02,369.24 880.64,371.28 881.25,363.90 881.87,364.60 882.48,365.42 883.10,361.82 883.36,361.04 883.71,360.81 884.33,361.03 884.94,357.20 885.56,359.46 886.17,359.73 886.79,363.59 887.40,359.76 888.02,359.92 888.63,364.24 889.07,363.21 889.24,364.85 889.86,366.52 890.47,370.95 891.09,370.52 891.70,374.37 892.14,371.40 892.32,374.93 892.93,381.11 893.55,378.88 894.16,380.58 894.78,382.13 895.39,388.17 896.01,390.30 896.53,390.36 896.62,394.13 897.24,396.45 897.85,400.50 898.47,401.19 899.08,408.70 899.69,409.41 900.31,410.86 900.92,412.44 901.54,415.18 902.15,419.41 902.77,419.86 903.38,424.77 904.00,426.27 904.61,429.94 905.23,431.00 905.32,429.69 905.84,427.88 906.46,433.53 907.07,436.00 907.69,436.68 908.30,439.90 908.92,440.54 909.53,443.20 909.71,442.91 910.15,448.86 910.76,448.31 911.37,448.75 911.99,448.83 912.60,452.49 913.22,456.75 913.66,455.91 913.83,454.14 914.45,459.37 915.06,460.70 915.68,461.21 916.29,462.08 916.91,463.67 917.52,463.41 918.14,464.57 918.75,462.32 919.37,466.92 919.98,465.10 920.60,468.76 921.21,461.68 921.82,466.82 922.44,467.54 923.05,465.40 923.32,466.94 923.67,467.86 924.28,468.26 924.90,466.96 925.51,468.40 926.13,471.19 926.74,472.28 927.36,470.76 927.97,471.27 928.59,471.99 929.20,473.88 929.46,470.25 929.82,469.93 930.43,472.83 931.05,470.89 931.66,472.15 932.27,473.69 932.89,474.73 933.50,472.25 934.12,475.75 934.73,471.00 935.35,475.06 935.96,471.11 936.58,471.55 937.19,475.02 937.81,473.15 938.42,472.46 939.04,473.10 939.65,474.99 940.27,474.35 940.88,474.69 941.32,476.85 941.50,473.75 942.11,474.26 942.73,474.05 943.34,476.98 943.95,476.54 944.57,476.97 945.18,474.56 945.80,474.29 946.41,476.07 947.03,473.78 947.64,476.57 948.26,476.96 948.87,474.99 949.49,476.69 950.10,476.62 950.72,479.73 951.33,481.04 951.95,475.98 952.56,476.14 953.18,472.22 953.79,476.92 954.40,476.75 955.02,475.06 955.63,478.65 956.25,474.66 956.86,477.34 957.48,478.22 958.09,475.56 958.71,479.12 959.32,479.25 959.94,474.62 960.55,474.77 961.17,478.88 961.78,478.24 962.40,476.60 963.01,478.61 963.63,479.01 964.24,479.00 964.59,480.77 964.85,479.99 965.47,482.53 966.08,481.79 966.70,480.51 967.31,481.19 967.93,481.61 968.54,480.62 969.16,477.33 969.77,481.27 970.39,480.03 971.00,482.84 971.62,479.92 972.23,480.52 972.85,479.97 973.46,482.20 974.08,479.23 974.69,478.16 975.31,478.92 975.92,477.28 976.45,478.61 976.53,478.36 977.15,479.26 977.76,482.61 978.38,478.78 978.99,479.62 979.61,479.00 980.22,480.36 980.84,476.80 981.45,477.59 982.07,479.04 982.68,480.36 983.30,479.55 983.91,478.98 984.53,478.07 985.14,480.30 985.76,481.72 986.37,479.45 986.98,478.93 987.60,479.10 988.21,476.32 988.30,477.42 988.83,477.25 989.44,478.08 990.06,477.46 990.67,475.29 991.29,479.46 991.90,480.44 992.52,477.01 993.13,478.29 993.75,478.14 994.36,479.16 994.98,474.91 995.59,480.25 996.21,476.30 996.82,479.21 997.43,476.82 998.05,475.69 998.66,475.86 999.28,477.48 999.89,474.12 1000.16,474.98 1000.51,474.77 1001.12,472.52 1001.74,477.92 1002.35,476.60 1002.97,475.34 1003.58,477.30 1004.20,473.31 1004.81,474.73 1005.43,477.93 1006.04,476.60 1006.66,470.84 1007.27,468.86 1007.89,473.05 1008.50,476.95 1009.11,474.31 1009.73,474.89 1010.34,476.45 1010.96,473.57 1011.57,475.35 1012.01,476.25 1012.19,475.60 1012.80,475.22 1013.42,473.33 1014.03,475.23 1014.65,473.39 1015.26,476.32 1015.88,478.15 1016.49,471.56 1017.11,468.31 1017.72,470.76 1018.34,471.55 1018.95,472.22 1019.56,471.71 1020.18,467.79 1020.79,467.20 1021.41,470.45 1022.02,465.74 1022.64,469.22 1023.25,466.40 1023.43,468.07 1023.87,467.84 1024.48,467.78 1025.10,467.66 1025.71,464.18 1026.33,466.30 1026.94,465.63 1027.56,465.99 1028.17,467.47 1028.79,464.49 1029.40,463.07 1029.58,462.86 1030.01,463.15 1030.63,464.44 1031.24,460.99 1031.86,463.51 1032.47,460.80 1033.09,458.63 1033.70,455.30 1034.32,456.85 1034.41,457.48 1034.93,451.67 1035.55,454.78 1036.16,453.10 1036.78,448.51 1037.39,447.44 1037.48,450.76 1038.01,447.97 1038.62,443.55 1039.24,444.69 1039.85,443.51 1040.47,442.63 1041.08,437.74 1041.69,442.38 1042.31,438.55 1042.75,438.88 1042.92,437.86 1043.54,437.84 1044.15,433.71 1044.77,431.03 1045.38,432.07 1046.00,432.28 1046.61,427.87 1047.23,429.61 1047.58,426.61 1047.84,424.45 1048.46,426.50 1049.07,420.67 1049.69,422.40 1050.30,418.51 1050.92,419.12 1051.53,415.00 1052.14,414.63 1052.76,416.70 1052.85,414.90 1053.37,413.13 1053.99,410.30 1054.60,410.00 1055.22,405.26 1055.83,405.26 1055.92,407.00 1056.45,406.07 1057.06,407.03 1057.68,409.20 1058.29,410.08 1058.91,410.99 1059.43,415.27 1059.52,414.24 1060.14,415.76 1060.75,414.70 1061.37,415.12 1061.98,414.73 1062.59,418.02 1062.95,415.60 1063.21,419.00 1063.82,423.04 1064.44,426.20 1065.05,426.64 1065.67,424.94 1066.28,428.76 1066.46,426.85 1066.90,430.75 1067.51,430.47 1068.13,433.62 1068.74,438.47 1069.36,437.32 1069.97,441.68 1070.59,439.63 1071.20,440.13 1071.29,443.29 1071.82,444.97 1072.43,442.05 1073.05,444.40 1073.66,442.95 1074.27,446.62 1074.89,449.95 1075.50,449.49 1076.12,449.81 1076.73,450.00 1077.35,454.88 1077.96,457.32 1078.58,458.60 1079.19,459.33 1079.81,457.76 1080.42,464.35 1081.04,462.14 1081.65,462.95 1082.27,465.39 1082.88,460.94 1083.14,465.01 1083.50,465.25 1084.11,466.77 1084.72,468.97 1085.34,467.81 1085.95,464.05 1086.57,467.10 1087.18,468.02 1087.80,467.76 1088.41,465.02 1089.03,464.15 1089.64,468.35 1090.26,468.49 1090.87,468.34 1091.49,465.78 1092.10,472.55 1092.72,464.51 1093.24,469.40 1093.33,473.87 1093.95,470.21 1094.56,471.30 1095.17,469.24 1095.79,474.28 1096.40,469.98 1097.02,473.22 1097.63,473.06 1098.25,470.80 1098.86,474.15 1099.48,469.84 1100.09,471.35 1100.71,473.20 1101.32,473.15 1101.59,475.00 1101.94,476.17 1102.55,474.53 1103.17,474.30 1103.78,474.55 1104.40,475.03 1105.01,477.35 1105.63,475.42 1106.24,476.41 1106.85,475.37 1107.47,473.87 1108.08,477.06 1108.70,473.94 1109.31,476.12 1109.93,479.06 1110.54,474.68 1111.16,476.80 1111.68,474.25 1111.77,476.21 1112.39,474.66 1113.00,476.90 1113.62,476.31 1114.23,477.23 1114.85,479.54 1115.46,476.89 1116.08,477.57 1116.69,476.42 1117.30,476.19 1117.92,475.23 1118.53,473.50 1119.15,476.74 1119.76,479.42 1120.38,477.20 1120.99,475.23 1121.61,478.90 1122.22,474.88 1122.84,474.28 1123.45,472.94 1124.07,473.23 1124.68,474.37 1125.30,478.26 1125.91,474.15 1126.53,472.43 1126.61,473.15 1127.14,473.58 1127.75,470.59 1128.37,473.58 1128.98,474.43 1129.60,473.90 1130.21,474.55 1130.83,471.29 1131.44,470.69 1132.06,475.50 1132.67,474.58 1133.29,469.26 1133.90,471.82 1134.52,471.12 1135.13,471.78 1135.75,470.89 1136.36,469.33 1136.98,470.45 1137.59,470.44 1138.21,470.13 1138.82,466.94 1139.43,464.86 1140.05,468.29 1140.66,466.24 1141.28,469.11 1141.89,469.43 1142.51,468.56 1143.12,467.45 1143.74,468.27 1144.35,470.29 1144.97,466.85 1145.58,469.75 1146.20,469.29 1146.81,468.41 1147.43,470.38 1148.04,466.07 1148.66,468.64 1149.27,464.87 1149.88,464.75 1150.50,464.02 1151.11,466.54 1151.73,463.85 1152.34,465.45 1152.96,463.24 1153.57,467.18 1154.19,468.55 1154.80,465.64 1155.42,468.10 1156.03,465.94 1156.65,468.63 1156.91,464.82 1157.26,461.70 1157.88,466.93 1158.49,463.35 1159.11,461.04 1159.72,461.05 1160.33,458.62 1160.95,461.03 1161.56,459.26 1162.18,463.73 1162.79,462.13 1163.41,458.12 1164.02,458.80 1164.64,460.93 1165.25,458.93 1165.87,462.45 1166.48,462.32 1167.10,460.77 1167.45,461.06 1167.71,462.87 1168.33,464.39 1168.94,464.12 1169.56,461.14 1170.17,462.31 1170.79,459.17 1171.40,461.49 1172.01,459.49 1172.63,463.01 1173.24,459.97 1173.86,461.03 1174.47,463.39 1175.09,465.05 1175.70,462.09 1176.32,464.26 1176.93,465.56 1177.11,465.75 1177.55,463.89 1178.16,465.69 1178.78,465.18 1179.39,468.79 1180.01,467.96 1180.62,465.27 1181.24,464.38 1181.85,468.98 1182.46,471.19 1183.08,469.60 1183.69,471.06 1184.31,468.79 1184.92,467.44 1185.54,471.42 1185.89,470.31 1186.15,471.40 1186.77,467.72 1187.38,470.09 1188.00,468.16 1188.61,470.24 1189.23,467.22 1189.84,467.16 1190.46,467.38 1191.07,470.91 1191.69,468.89 1192.30,467.66 1192.91,467.35 1193.53,467.51 1194.14,472.27 1194.23,466.41 1194.76,468.27 1195.37,470.38 1195.99,470.80 1196.60,467.86 1197.22,469.00 1197.83,469.30 1198.45,470.21 1199.06,469.03 1199.68,472.45 1200.29,470.10 1200.91,472.53 1201.52,467.84 1202.14,471.57 1202.75,467.69 1203.37,467.34 1203.98,471.03 1204.59,468.75 1205.21,471.17 1205.82,468.50 1206.44,473.39 1207.05,470.60 1207.67,468.65 1208.28,471.07 1208.90,472.39 1209.51,469.48 1209.60,471.81"/>
<path d="M66.9 18.5H603.8V517.7M76.9 18.5V517.4M76.9 507.6H603.8" fill="none" stroke="#32329a" stroke-width="2"/>
<path d="M66.9 127.2H76.9" stroke="#32329a" stroke-width="2"/>
<path d="M66.9 235.9H76.9" stroke="#32329a" stroke-width="2"/>
<path d="M66.9 344.6H76.9" stroke="#32329a" stroke-width="2"/>
<path d="M66.9 453.3H76.9" stroke="#32329a" stroke-width="2"/>
<path d="M164.7 507.6V517.4" stroke="#32329a" stroke-width="2"/>
<path d="M252.5 507.6V517.4" stroke="#32329a" stroke-width="2"/>
<path d="M340.4 507.6V517.4" stroke="#32329a" stroke-width="2"/>
<path d="M428.2 507.6V517.4" stroke="#32329a" stroke-width="2"/>
<path d="M516.0 507.6V517.4" stroke="#32329a" stroke-width="2"/>
<path d="M120.8 507.6V513.2" stroke="#32329a" stroke-width="2"/>
<path d="M208.6 507.6V513.2" stroke="#32329a" stroke-width="2"/>
<path d="M296.4 507.6V513.2" stroke="#32329a" stroke-width="2"/>
<path d="M384.3 507.6V513.2" stroke="#32329a" stroke-width="2"/>
<path d="M472.1 507.6V513.2" stroke="#32329a" stroke-width="2"/>
<path d="M559.9 507.6V513.2" stroke="#32329a" stroke-width="2"/>
<text x="76.9" y="540.3" text-anchor="middle" font-size="21.5" fill="#16168a">20</text>
<text x="164.7" y="540.3" text-anchor="middle" font-size="21.5" fill="#16168a">30</text>
<text x="252.5" y="540.3" text-anchor="middle" font-size="21.5" fill="#16168a">40</text>
<text x="340.4" y="540.3" text-anchor="middle" font-size="21.5" fill="#16168a">50</text>
<text x="428.2" y="540.3" text-anchor="middle" font-size="21.5" fill="#16168a">60</text>
<text x="516.0" y="540.3" text-anchor="middle" font-size="21.5" fill="#16168a">70</text>
<text x="603.8" y="540.3" text-anchor="middle" font-size="21.5" fill="#16168a">80</text>
<path d="M672.7 18.5H1209.6V517.7M682.7 18.5V517.4M682.7 507.6H1209.6" fill="none" stroke="#32329a" stroke-width="2"/>
<path d="M672.7 127.2H682.7" stroke="#32329a" stroke-width="2"/>
<path d="M672.7 235.9H682.7" stroke="#32329a" stroke-width="2"/>
<path d="M672.7 344.6H682.7" stroke="#32329a" stroke-width="2"/>
<path d="M672.7 453.3H682.7" stroke="#32329a" stroke-width="2"/>
<path d="M770.5 507.6V517.4" stroke="#32329a" stroke-width="2"/>
<path d="M858.3 507.6V517.4" stroke="#32329a" stroke-width="2"/>
<path d="M946.1 507.6V517.4" stroke="#32329a" stroke-width="2"/>
<path d="M1034.0 507.6V517.4" stroke="#32329a" stroke-width="2"/>
<path d="M1121.8 507.6V517.4" stroke="#32329a" stroke-width="2"/>
<path d="M726.6 507.6V513.2" stroke="#32329a" stroke-width="2"/>
<path d="M814.4 507.6V513.2" stroke="#32329a" stroke-width="2"/>
<path d="M902.2 507.6V513.2" stroke="#32329a" stroke-width="2"/>
<path d="M990.1 507.6V513.2" stroke="#32329a" stroke-width="2"/>
<path d="M1077.9 507.6V513.2" stroke="#32329a" stroke-width="2"/>
<path d="M1165.7 507.6V513.2" stroke="#32329a" stroke-width="2"/>
<text x="682.7" y="540.3" text-anchor="middle" font-size="21.5" fill="#16168a">20</text>
<text x="770.5" y="540.3" text-anchor="middle" font-size="21.5" fill="#16168a">30</text>
<text x="858.3" y="540.3" text-anchor="middle" font-size="21.5" fill="#16168a">40</text>
<text x="946.1" y="540.3" text-anchor="middle" font-size="21.5" fill="#16168a">50</text>
<text x="1034.0" y="540.3" text-anchor="middle" font-size="21.5" fill="#16168a">60</text>
<text x="1121.8" y="540.3" text-anchor="middle" font-size="21.5" fill="#16168a">70</text>
<text x="1209.6" y="540.3" text-anchor="middle" font-size="21.5" fill="#16168a">80</text>
<text transform="translate(41.8,362.6) rotate(-90)" font-size="27.75" fill="#16168a">Intensity (arb.u.)</text>
<text transform="translate(655.9,362.6) rotate(-90)" font-size="27.75" fill="#16168a">Intensity (arb.u.)</text>
<text x="338.0" y="573" text-anchor="middle" font-size="28" fill="#16168a">2<tspan class="serif">Θ (</tspan><tspan class="serif" font-size="16" dy="-12">o</tspan><tspan class="serif" dy="12">)</tspan></text>
<text x="943.5" y="573" text-anchor="middle" font-size="28" fill="#16168a">2<tspan class="serif">Θ (</tspan><tspan class="serif" font-size="16" dy="-12">o</tspan><tspan class="serif" dy="12">)</tspan></text>
<text x="261" y="49.8" font-size="25.5" font-style="italic" fill="#16168a">SG catalysts</text>
<text x="873.5" y="48.4" font-size="25.5" font-style="italic" fill="#16168a">pCu catalysts</text>
<text x="105" y="260.3" font-size="25" fill="#1a1a1a">(c)</text>
<text x="104" y="361" font-size="25" fill="#1a1a1a">(b)</text>
<text x="103.5" y="446.3" font-size="25" fill="#1a1a1a">(a)</text>
<text x="712" y="270.3" font-size="25" fill="#1a1a1a">(e)</text>
<text x="711.5" y="362.7" font-size="25" fill="#1a1a1a">(d)</text>
<text x="713.5" y="452.7" font-size="25" fill="#1a1a1a">(a)</text>
<text x="523.6" y="55.7" text-anchor="middle" font-size="25" font-weight="bold" fill="#0000ff">v</text>
<text x="541" y="58.7" font-size="25.5" fill="#1a1a1a">CuO</text>
<text x="541" y="96.0" font-size="25.5" fill="#1a1a1a">NiO</text>
<path d="M524.7 71.4V108" stroke="#de6590" stroke-width="1.75" stroke-dasharray="7 4.9"/>
<text x="1131.2" y="53.2" text-anchor="middle" font-size="25" font-weight="bold" fill="#0000ff">v</text>
<text x="1148.6" y="56.5" font-size="25.5" fill="#1a1a1a">CuO</text>
<text x="1148.6" y="94.2" font-size="25.5" fill="#1a1a1a">NiO</text>
<path d="M1132.1 69.3V106" stroke="#de6590" stroke-width="1.75" stroke-dasharray="7 4.9"/>
<text x="212.5" y="86.2" text-anchor="middle" font-size="25" font-weight="bold" fill="#0000ff">v</text>
<text x="241.7" y="110.6" text-anchor="middle" font-size="25" font-weight="bold" fill="#0000ff">v</text>
<text x="330.1" y="233.6" text-anchor="middle" font-size="25" font-weight="bold" fill="#0000ff">v</text>
<text x="411.4" y="238.5" text-anchor="middle" font-size="25" font-weight="bold" fill="#0000ff">v</text>
<text x="440.7" y="203.2" text-anchor="middle" font-size="25" font-weight="bold" fill="#0000ff">v</text>
<text x="482.1" y="248.9" text-anchor="middle" font-size="25" font-weight="bold" fill="#0000ff">v</text>
<text x="498.8" y="258.9" text-anchor="middle" font-size="25" font-weight="bold" fill="#0000ff">v</text>
<text x="810.3" y="90.2" text-anchor="middle" font-size="25" font-weight="bold" fill="#0000ff">v</text>
<text x="847.2" y="122.1" text-anchor="middle" font-size="25" font-weight="bold" fill="#0000ff">v</text>
<text x="937.3" y="249.5" text-anchor="middle" font-size="25" font-weight="bold" fill="#0000ff">v</text>
<text x="1014.6" y="260.1" text-anchor="middle" font-size="25" font-weight="bold" fill="#0000ff">v</text>
<text x="1045.2" y="202.6" text-anchor="middle" font-size="25" font-weight="bold" fill="#0000ff">v</text>
<text x="1088.9" y="239.5" text-anchor="middle" font-size="25" font-weight="bold" fill="#0000ff">v</text>
<text x="1105.3" y="262.6" text-anchor="middle" font-size="25" font-weight="bold" fill="#0000ff">v</text>
</svg></body></html>
